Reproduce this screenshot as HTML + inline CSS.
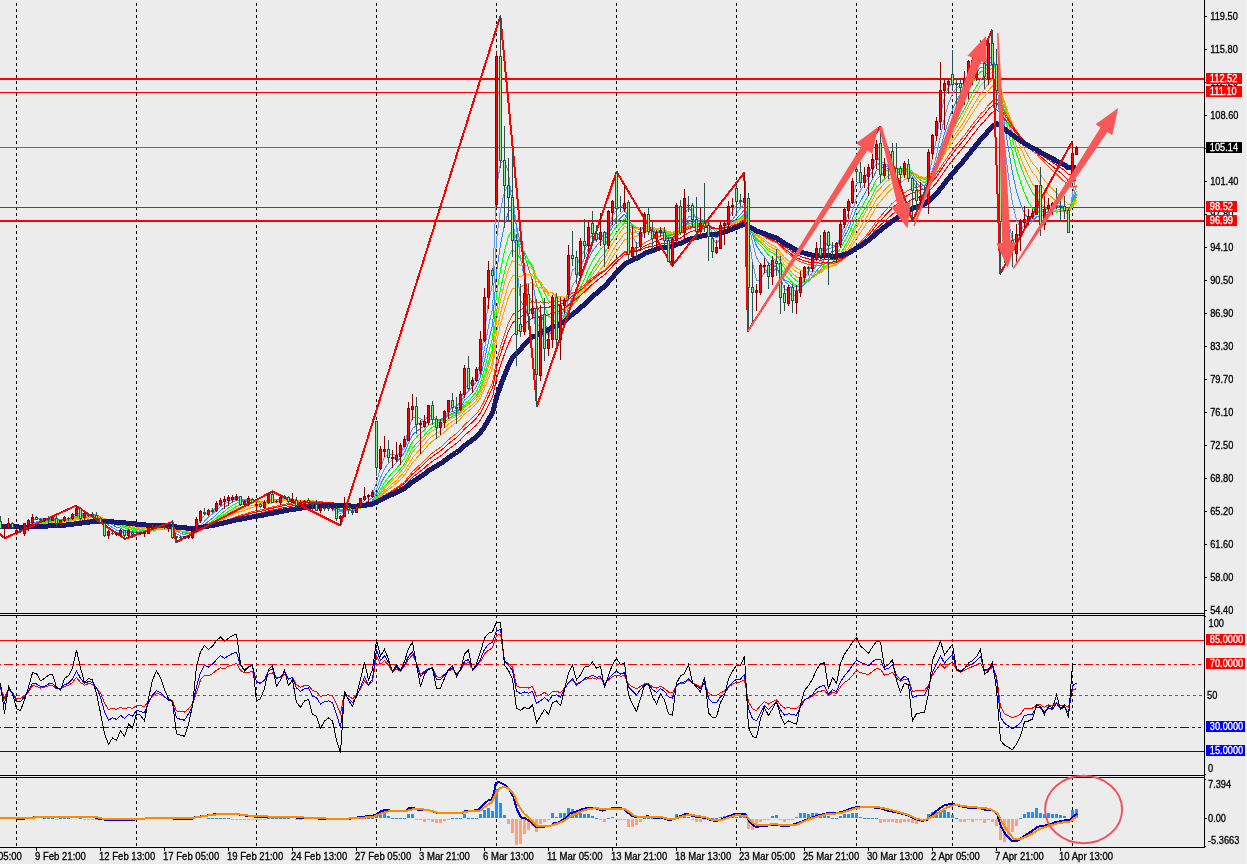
<!DOCTYPE html><html><head><meta charset="utf-8"><title>Chart</title><style>html,body{margin:0;padding:0;background:#ececec;overflow:hidden}</style></head><body><svg width="1247" height="864" viewBox="0 0 1247 864" style="display:block;font-family:'Liberation Sans',sans-serif;font-size:10px">
<rect width="1247" height="864" fill="#ececec"/>
<rect x="1246" width="1" height="864" fill="#f4f4f4"/>
<g shape-rendering="crispEdges">
<line x1="16.5" y1="3" x2="16.5" y2="847" stroke="#000" stroke-width="1" stroke-dasharray="3 3"/>
<line x1="136.5" y1="3" x2="136.5" y2="847" stroke="#000" stroke-width="1" stroke-dasharray="3 3"/>
<line x1="256.5" y1="3" x2="256.5" y2="847" stroke="#000" stroke-width="1" stroke-dasharray="3 3"/>
<line x1="376.5" y1="3" x2="376.5" y2="847" stroke="#000" stroke-width="1" stroke-dasharray="3 3"/>
<line x1="496.5" y1="3" x2="496.5" y2="847" stroke="#000" stroke-width="1" stroke-dasharray="3 3"/>
<line x1="616.5" y1="3" x2="616.5" y2="847" stroke="#000" stroke-width="1" stroke-dasharray="3 3"/>
<line x1="736.5" y1="3" x2="736.5" y2="847" stroke="#000" stroke-width="1" stroke-dasharray="3 3"/>
<line x1="856.5" y1="3" x2="856.5" y2="847" stroke="#000" stroke-width="1" stroke-dasharray="3 3"/>
<line x1="952.5" y1="3" x2="952.5" y2="847" stroke="#000" stroke-width="1" stroke-dasharray="3 3"/>
<line x1="1072.5" y1="3" x2="1072.5" y2="847" stroke="#000" stroke-width="1" stroke-dasharray="3 3"/>
<rect x="0" y="78" width="1204" height="2" fill="#ff0000"/>
<rect x="0" y="92" width="1204" height="1" fill="#ff0000"/>
<rect x="0" y="147" width="1204" height="1" fill="#4169e1"/>
<rect x="0" y="207" width="1204" height="1" fill="#ff0000"/>
<rect x="0" y="220" width="1204" height="2" fill="#ff0000"/>
</g>
<g shape-rendering="crispEdges" stroke-linejoin="round">
<polyline points="0.5,527.1 4.5,526.6 8.5,524.9 12.5,525.5 16.5,527.4 20.5,529.2 24.5,527.3 28.5,524.3 32.5,520.6 36.5,519.0 40.5,518.7 44.5,518.6 48.5,518.8 52.5,518.0 56.5,520.0 60.5,520.4 64.5,519.2 68.5,518.9 72.5,516.6 76.5,512.8 80.5,514.2 84.5,513.6 88.5,514.2 92.5,514.8 96.5,516.0 100.5,518.7 104.5,525.7 108.5,529.1 112.5,531.6 116.5,532.8 120.5,531.5 124.5,532.8 128.5,532.0 132.5,532.7 136.5,532.7 140.5,532.5 144.5,532.4 148.5,530.1 152.5,527.4 156.5,526.1 160.5,525.7 164.5,526.3 168.5,526.2 172.5,530.6 176.5,533.8 180.5,536.0 184.5,536.9 188.5,536.4 192.5,534.1 196.5,527.7 200.5,519.9 204.5,515.3 208.5,511.8 212.5,510.7 216.5,507.5 220.5,503.8 224.5,501.1 228.5,498.6 232.5,497.7 236.5,496.7 240.5,499.5 244.5,500.5 248.5,499.9 252.5,500.6 256.5,501.6 260.5,503.6 264.5,503.7 268.5,499.8 272.5,500.0 276.5,499.8 280.5,498.6 284.5,498.0 288.5,498.8 292.5,498.9 296.5,501.4 300.5,502.3 304.5,501.8 308.5,502.1 312.5,502.6 316.5,505.6 320.5,506.6 324.5,507.6 328.5,507.9 332.5,507.8 336.5,511.9 340.5,513.9 344.5,511.4 348.5,510.3 352.5,510.2 356.5,508.5 360.5,504.5 364.5,500.2 368.5,496.9 372.5,494.1 376.5,483.0 380.5,467.7 384.5,457.1 388.5,454.1 392.5,454.6 396.5,455.4 400.5,451.5 404.5,445.8 408.5,429.4 412.5,417.3 416.5,417.1 420.5,418.5 424.5,420.9 428.5,415.5 432.5,415.8 436.5,419.8 440.5,421.4 444.5,418.3 448.5,410.5 452.5,407.4 456.5,406.4 460.5,401.4 464.5,387.5 468.5,384.9 472.5,381.1 476.5,375.8 480.5,361.2 484.5,332.2 488.5,301.8 492.5,284.3 496.5,188.6 500.5,163.0 504.5,160.7 508.5,171.9 512.5,208.2 516.5,263.6 520.5,300.5 524.5,307.4 528.5,312.8 532.5,308.6 536.5,333.7 540.5,331.7 544.5,339.7 548.5,340.8 552.5,321.6 556.5,327.2 560.5,316.8 564.5,308.6 568.5,286.5 572.5,269.8 576.5,267.9 580.5,255.7 584.5,251.1 588.5,239.9 592.5,234.3 596.5,235.3 600.5,233.9 604.5,238.4 608.5,228.1 612.5,215.9 616.5,210.1 620.5,206.5 624.5,204.8 628.5,224.5 632.5,236.1 636.5,243.8 640.5,241.7 644.5,229.1 648.5,227.5 652.5,230.4 656.5,231.5 660.5,232.2 664.5,235.0 668.5,245.3 672.5,244.6 676.5,229.7 680.5,227.9 684.5,213.6 688.5,208.2 692.5,212.0 696.5,218.9 700.5,222.7 704.5,225.3 708.5,229.8 712.5,238.6 716.5,243.8 720.5,237.8 724.5,231.1 728.5,218.8 732.5,210.9 736.5,205.4 740.5,202.1 744.5,200.2 748.5,234.6 752.5,262.5 756.5,280.6 760.5,279.8 764.5,272.6 768.5,272.1 772.5,266.7 776.5,265.2 780.5,277.6 784.5,288.9 788.5,291.2 792.5,296.4 796.5,294.0 800.5,286.9 804.5,278.2 808.5,271.7 812.5,264.8 816.5,257.0 820.5,254.8 824.5,244.6 828.5,243.4 832.5,246.0 836.5,245.0 840.5,237.5 844.5,224.7 848.5,212.3 852.5,197.0 856.5,183.8 860.5,180.6 864.5,177.1 868.5,172.9 872.5,167.0 876.5,156.3 880.5,161.5 884.5,162.8 888.5,166.0 892.5,168.0 896.5,171.7 900.5,173.6 904.5,169.8 908.5,172.7 912.5,179.2 916.5,188.6 920.5,194.0 924.5,195.3 928.5,178.1 932.5,157.8 936.5,138.4 940.5,114.0 944.5,97.6 948.5,87.1 952.5,83.2 956.5,83.0 960.5,84.5 964.5,82.3 968.5,73.6 972.5,66.6 976.5,63.1 980.5,57.0 984.5,64.2 988.5,56.5 992.5,58.9 996.5,71.6 1000.5,132.5 1004.5,188.7 1008.5,221.8 1012.5,239.7 1016.5,238.8 1020.5,231.1 1024.5,225.1 1028.5,219.6 1032.5,215.7 1036.5,203.0 1040.5,209.2 1044.5,209.1 1048.5,208.0 1052.5,206.7 1056.5,205.2 1060.5,205.4 1064.5,207.4 1068.5,217.8 1072.5,193.7 1076.5,172.3" fill="none" stroke="#6495ed" stroke-width="1" />
<polyline points="0.5,526.9 4.5,526.6 8.5,525.6 12.5,525.8 16.5,526.9 20.5,528.0 24.5,527.0 28.5,525.4 32.5,523.2 36.5,521.8 40.5,520.5 44.5,519.5 48.5,518.9 52.5,518.3 56.5,519.5 60.5,519.9 64.5,519.2 68.5,519.1 72.5,517.8 76.5,515.2 80.5,515.4 84.5,514.4 88.5,514.3 92.5,514.3 96.5,515.2 100.5,517.1 104.5,522.0 108.5,524.9 112.5,527.8 116.5,530.0 120.5,530.8 124.5,532.3 128.5,532.1 132.5,532.5 136.5,532.5 140.5,532.5 144.5,532.4 148.5,531.1 152.5,529.1 156.5,528.0 160.5,527.1 164.5,526.8 168.5,526.3 172.5,528.8 176.5,531.2 180.5,533.3 184.5,534.7 188.5,535.5 192.5,534.8 196.5,531.0 200.5,525.4 204.5,521.2 208.5,517.0 212.5,514.1 216.5,510.2 220.5,506.6 224.5,504.0 228.5,501.6 232.5,499.8 236.5,498.2 240.5,499.1 244.5,499.6 248.5,499.3 252.5,500.0 256.5,501.0 260.5,502.5 264.5,502.8 268.5,500.6 272.5,500.8 276.5,500.7 280.5,499.6 284.5,498.6 288.5,498.9 292.5,498.9 296.5,500.4 300.5,501.0 304.5,501.1 308.5,501.7 312.5,502.4 316.5,504.3 320.5,505.2 324.5,506.1 328.5,506.9 332.5,507.4 336.5,510.3 340.5,511.9 344.5,510.8 348.5,510.6 352.5,510.9 356.5,509.8 360.5,506.8 364.5,503.3 368.5,500.5 372.5,497.7 376.5,489.2 380.5,477.7 384.5,468.5 388.5,463.2 392.5,459.4 396.5,456.5 400.5,452.5 404.5,448.7 408.5,438.2 412.5,428.7 416.5,425.2 420.5,422.5 424.5,420.7 428.5,416.1 432.5,416.3 436.5,419.3 440.5,420.3 444.5,417.9 448.5,413.4 452.5,411.4 456.5,410.1 460.5,405.2 464.5,394.6 468.5,391.2 472.5,387.0 476.5,381.3 480.5,369.3 484.5,349.0 488.5,326.0 492.5,308.7 496.5,239.9 500.5,209.0 504.5,192.1 508.5,184.8 512.5,193.4 516.5,227.5 520.5,258.6 524.5,278.1 528.5,294.2 532.5,303.4 536.5,324.9 540.5,325.7 544.5,331.7 548.5,334.9 552.5,327.2 556.5,330.1 560.5,323.3 564.5,315.4 568.5,299.0 572.5,285.5 576.5,279.4 580.5,267.3 584.5,258.2 588.5,247.9 592.5,241.9 596.5,239.7 600.5,236.5 604.5,237.1 608.5,230.6 612.5,222.6 616.5,217.8 620.5,213.5 624.5,209.1 628.5,218.8 632.5,225.9 636.5,232.9 640.5,235.1 644.5,231.4 648.5,231.9 652.5,233.3 656.5,231.9 660.5,230.8 664.5,232.8 668.5,240.2 672.5,241.2 676.5,232.8 680.5,232.0 684.5,223.1 688.5,217.0 692.5,215.5 696.5,217.5 700.5,218.6 704.5,221.1 708.5,225.3 712.5,233.1 716.5,238.0 720.5,235.9 724.5,233.2 728.5,226.4 732.5,220.1 736.5,213.4 740.5,207.9 744.5,203.7 748.5,223.4 752.5,242.0 756.5,257.6 760.5,264.1 764.5,268.5 768.5,273.4 772.5,271.7 776.5,268.3 780.5,274.4 784.5,281.6 788.5,284.3 792.5,289.7 796.5,291.5 800.5,289.3 804.5,284.0 808.5,278.7 812.5,272.1 816.5,264.6 820.5,260.1 824.5,251.5 828.5,248.3 832.5,247.9 836.5,245.9 840.5,240.1 844.5,231.7 848.5,222.7 852.5,210.6 856.5,197.8 860.5,190.5 864.5,183.9 868.5,177.6 872.5,171.4 876.5,163.3 880.5,164.7 884.5,163.9 888.5,164.3 892.5,165.1 896.5,168.7 900.5,171.0 904.5,169.8 908.5,171.8 912.5,176.5 916.5,182.9 920.5,187.2 924.5,190.1 928.5,181.8 932.5,170.0 936.5,155.8 940.5,135.8 944.5,117.7 948.5,103.3 952.5,93.7 956.5,88.1 960.5,85.6 964.5,82.7 968.5,77.1 972.5,72.2 976.5,68.8 980.5,62.9 984.5,64.8 988.5,58.7 992.5,59.3 996.5,66.9 1000.5,106.1 1004.5,145.7 1008.5,176.9 1012.5,202.8 1016.5,220.5 1020.5,228.0 1024.5,229.6 1028.5,225.6 1032.5,221.1 1036.5,210.8 1040.5,212.0 1044.5,210.3 1048.5,208.5 1052.5,206.6 1056.5,206.3 1060.5,206.2 1064.5,207.4 1068.5,213.2 1072.5,199.0 1076.5,185.2" fill="none" stroke="#6495ed" stroke-width="1" />
<polyline points="0.5,526.8 4.5,526.6 8.5,525.9 12.5,526.0 16.5,526.8 20.5,527.6 24.5,526.9 28.5,525.7 32.5,524.1 36.5,523.0 40.5,522.0 44.5,521.1 48.5,520.4 52.5,519.3 56.5,519.7 60.5,519.7 64.5,519.2 68.5,519.1 72.5,518.2 76.5,516.3 80.5,516.3 84.5,515.5 88.5,515.2 92.5,514.9 96.5,515.2 100.5,516.4 104.5,519.9 108.5,522.3 112.5,524.8 116.5,527.1 120.5,528.2 124.5,530.2 128.5,530.9 132.5,531.9 136.5,532.3 140.5,532.5 144.5,532.4 148.5,531.4 152.5,530.0 156.5,529.1 160.5,528.4 164.5,527.9 168.5,527.2 172.5,528.8 176.5,530.3 180.5,531.7 184.5,532.8 188.5,533.8 192.5,533.8 196.5,531.4 200.5,527.7 204.5,524.6 208.5,521.2 212.5,518.3 216.5,514.4 220.5,510.6 224.5,507.4 228.5,504.4 232.5,502.2 236.5,500.4 240.5,500.5 244.5,500.2 248.5,499.5 252.5,499.7 256.5,500.4 260.5,501.5 264.5,501.9 268.5,500.7 272.5,500.9 276.5,500.9 280.5,500.1 284.5,499.4 288.5,499.5 292.5,499.3 296.5,500.1 300.5,500.5 304.5,500.6 308.5,501.1 312.5,501.7 316.5,503.3 320.5,504.2 324.5,505.2 328.5,505.9 332.5,506.5 336.5,508.8 340.5,510.4 344.5,510.0 348.5,510.1 352.5,510.6 356.5,509.9 360.5,507.9 364.5,505.4 368.5,503.1 372.5,500.5 376.5,493.7 380.5,484.5 384.5,476.5 388.5,471.0 392.5,466.4 396.5,462.5 400.5,457.6 404.5,452.7 408.5,443.2 412.5,434.9 416.5,431.4 420.5,428.5 424.5,425.8 428.5,420.6 432.5,418.9 436.5,419.4 440.5,419.4 444.5,417.8 448.5,414.9 452.5,413.3 456.5,411.8 460.5,408.1 464.5,400.1 468.5,396.8 472.5,392.3 476.5,386.6 480.5,376.6 484.5,360.3 488.5,341.3 492.5,325.5 496.5,272.2 500.5,244.3 504.5,225.1 508.5,211.4 512.5,209.0 516.5,226.3 520.5,243.7 524.5,254.2 528.5,268.5 532.5,281.0 536.5,305.1 540.5,312.9 544.5,323.6 548.5,329.8 552.5,325.5 556.5,328.1 560.5,324.2 564.5,320.0 568.5,307.4 572.5,296.5 576.5,289.5 580.5,278.2 584.5,269.2 588.5,258.6 592.5,251.1 596.5,245.9 600.5,241.4 604.5,240.2 608.5,234.1 612.5,226.9 616.5,222.0 620.5,218.1 624.5,214.1 628.5,220.1 632.5,224.4 636.5,228.4 640.5,229.7 644.5,227.5 648.5,229.1 652.5,231.6 656.5,232.3 660.5,232.3 664.5,233.6 668.5,238.0 672.5,238.3 676.5,232.6 680.5,232.6 684.5,226.4 688.5,221.8 692.5,220.2 696.5,221.1 700.5,220.6 704.5,220.7 708.5,222.9 712.5,228.3 716.5,232.7 720.5,232.4 724.5,231.8 728.5,227.7 732.5,223.4 736.5,218.7 740.5,214.4 744.5,210.1 748.5,222.5 752.5,234.7 756.5,245.8 760.5,251.7 764.5,256.9 768.5,263.3 772.5,265.6 776.5,267.4 780.5,274.2 784.5,280.3 788.5,281.5 792.5,285.2 796.5,287.1 800.5,286.5 804.5,283.8 808.5,281.2 812.5,277.0 816.5,271.0 820.5,266.5 824.5,258.6 828.5,254.4 832.5,252.1 836.5,249.2 840.5,243.7 844.5,236.5 848.5,228.8 852.5,218.6 856.5,208.1 860.5,201.1 864.5,194.0 868.5,186.4 872.5,178.9 876.5,170.3 880.5,168.9 884.5,166.7 888.5,166.0 892.5,165.9 896.5,167.8 900.5,168.9 904.5,168.0 908.5,170.2 912.5,174.2 916.5,179.6 920.5,183.2 924.5,186.1 928.5,180.8 932.5,172.7 936.5,162.7 940.5,148.0 944.5,133.7 948.5,120.5 952.5,109.5 956.5,100.5 960.5,94.1 964.5,88.2 968.5,81.3 972.5,75.8 976.5,72.2 980.5,67.3 984.5,67.9 988.5,62.6 992.5,61.8 996.5,66.1 1000.5,94.0 1004.5,123.9 1008.5,149.4 1012.5,172.7 1016.5,191.1 1020.5,203.9 1024.5,213.3 1028.5,219.4 1032.5,221.9 1036.5,216.7 1040.5,216.8 1044.5,214.1 1048.5,211.3 1052.5,208.7 1056.5,207.5 1060.5,206.9 1064.5,207.1 1068.5,211.6 1072.5,201.4 1076.5,191.2" fill="none" stroke="#1e90ff" stroke-width="1" />
<polyline points="0.5,526.7 4.5,526.6 8.5,526.0 12.5,526.1 16.5,526.7 20.5,527.4 24.5,526.8 28.5,526.0 32.5,524.6 36.5,523.7 40.5,522.9 44.5,522.1 48.5,521.4 52.5,520.5 56.5,520.7 60.5,520.4 64.5,519.7 68.5,519.3 72.5,518.4 76.5,516.9 80.5,516.9 84.5,516.2 88.5,515.8 92.5,515.6 96.5,515.7 100.5,516.5 104.5,519.1 108.5,520.9 112.5,522.9 116.5,524.8 120.5,526.0 124.5,527.9 128.5,528.9 132.5,530.2 136.5,531.0 140.5,531.7 144.5,532.1 148.5,531.6 152.5,530.5 156.5,529.8 160.5,529.1 164.5,528.7 168.5,528.1 172.5,529.2 176.5,530.2 180.5,531.2 184.5,532.0 188.5,532.7 192.5,532.7 196.5,531.0 200.5,528.3 204.5,526.0 208.5,523.4 212.5,521.1 216.5,517.9 220.5,514.4 224.5,511.2 228.5,508.1 232.5,505.5 236.5,503.1 240.5,502.4 244.5,501.5 248.5,500.6 252.5,500.4 256.5,500.6 260.5,501.2 264.5,501.4 268.5,500.4 272.5,500.7 276.5,500.7 280.5,500.2 284.5,499.7 288.5,499.9 292.5,499.6 296.5,500.3 300.5,500.5 304.5,500.5 308.5,500.8 312.5,501.2 316.5,502.5 320.5,503.3 324.5,504.2 328.5,505.0 332.5,505.6 336.5,507.6 340.5,509.1 344.5,509.0 348.5,509.3 352.5,509.9 356.5,509.6 360.5,508.2 364.5,506.3 368.5,504.5 372.5,502.4 376.5,496.9 380.5,489.3 384.5,482.4 388.5,477.2 392.5,472.6 396.5,468.5 400.5,463.5 404.5,458.3 408.5,449.5 412.5,441.6 416.5,437.2 420.5,433.3 424.5,430.1 428.5,425.3 432.5,423.2 436.5,422.6 440.5,421.5 444.5,419.2 448.5,415.9 452.5,414.1 456.5,412.9 460.5,410.0 464.5,403.5 468.5,400.4 472.5,396.5 476.5,391.6 480.5,383.0 484.5,369.1 488.5,352.6 492.5,338.6 496.5,294.8 500.5,269.9 504.5,251.0 508.5,236.2 512.5,230.0 516.5,238.9 520.5,247.8 524.5,251.8 528.5,259.7 532.5,267.4 536.5,285.0 540.5,293.6 544.5,306.1 548.5,316.6 552.5,317.9 556.5,323.8 560.5,323.0 564.5,320.4 568.5,310.7 572.5,302.3 576.5,297.2 580.5,287.4 584.5,279.1 588.5,268.7 592.5,260.9 596.5,254.9 600.5,249.1 604.5,246.1 608.5,239.0 612.5,231.8 616.5,226.7 620.5,222.5 624.5,218.2 628.5,221.9 632.5,224.7 636.5,227.6 640.5,228.3 644.5,226.3 648.5,227.1 652.5,228.9 656.5,229.7 660.5,230.5 664.5,232.4 668.5,236.9 672.5,237.7 676.5,233.3 680.5,232.7 684.5,227.5 688.5,223.9 692.5,222.7 696.5,223.4 700.5,222.7 704.5,222.5 708.5,223.9 712.5,227.4 716.5,230.1 720.5,229.6 724.5,229.2 728.5,226.5 732.5,223.8 736.5,220.7 740.5,217.5 744.5,214.0 748.5,223.5 752.5,233.0 756.5,241.5 760.5,245.7 764.5,249.7 768.5,255.1 772.5,257.9 776.5,260.6 780.5,267.9 784.5,274.8 788.5,278.4 792.5,283.1 796.5,285.3 800.5,284.5 804.5,282.4 808.5,280.6 812.5,277.8 816.5,273.5 820.5,270.4 824.5,264.3 828.5,260.4 832.5,257.5 836.5,254.0 840.5,248.5 844.5,241.4 848.5,234.3 852.5,225.2 856.5,215.8 860.5,209.0 864.5,202.2 868.5,195.0 872.5,187.7 876.5,179.2 880.5,175.9 884.5,172.1 888.5,169.7 892.5,168.2 896.5,168.6 900.5,169.0 904.5,167.9 908.5,169.2 912.5,172.1 916.5,176.4 920.5,179.9 924.5,182.8 928.5,179.3 932.5,173.2 936.5,165.6 940.5,154.1 944.5,142.5 948.5,131.5 952.5,122.0 956.5,113.5 960.5,106.2 964.5,98.8 968.5,90.2 972.5,82.9 976.5,77.5 980.5,71.7 984.5,70.9 988.5,65.9 992.5,64.7 996.5,67.5 1000.5,88.9 1004.5,112.3 1008.5,132.8 1012.5,152.4 1016.5,169.1 1020.5,182.0 1024.5,193.1 1028.5,201.8 1032.5,208.5 1036.5,209.5 1040.5,214.7 1044.5,215.9 1048.5,214.8 1052.5,212.2 1056.5,210.3 1060.5,208.9 1064.5,208.3 1068.5,211.2 1072.5,202.9 1076.5,194.5" fill="none" stroke="#00ff00" stroke-width="1" />
<polyline points="0.5,526.7 4.5,526.6 8.5,526.1 12.5,526.2 16.5,526.7 20.5,527.3 24.5,526.8 28.5,526.1 32.5,525.0 36.5,524.3 40.5,523.5 44.5,522.8 48.5,522.2 52.5,521.4 56.5,521.4 60.5,521.1 64.5,520.5 68.5,520.1 72.5,519.2 76.5,517.7 80.5,517.4 84.5,516.7 88.5,516.3 92.5,516.0 96.5,516.1 100.5,516.7 104.5,518.8 108.5,520.3 112.5,521.9 116.5,523.4 120.5,524.5 124.5,526.1 128.5,527.1 132.5,528.4 136.5,529.4 140.5,530.2 144.5,530.9 148.5,530.9 152.5,530.4 156.5,530.0 160.5,529.6 164.5,529.3 168.5,528.7 172.5,529.6 176.5,530.4 180.5,531.1 184.5,531.8 188.5,532.3 192.5,532.3 196.5,530.8 200.5,528.5 204.5,526.6 208.5,524.4 212.5,522.5 216.5,519.9 220.5,517.0 224.5,514.3 228.5,511.4 232.5,508.9 236.5,506.4 240.5,505.2 244.5,503.9 248.5,502.4 252.5,501.7 256.5,501.4 260.5,501.7 264.5,501.6 268.5,500.6 272.5,500.6 276.5,500.6 280.5,500.1 284.5,499.8 288.5,499.9 292.5,499.8 296.5,500.3 300.5,500.6 304.5,500.5 308.5,500.8 312.5,501.1 316.5,502.1 320.5,502.7 324.5,503.5 328.5,504.1 332.5,504.8 336.5,506.6 340.5,507.9 344.5,508.0 348.5,508.4 352.5,509.1 356.5,509.0 360.5,508.0 364.5,506.6 368.5,505.2 372.5,503.5 376.5,499.0 380.5,492.6 384.5,486.6 388.5,482.0 392.5,477.8 396.5,473.7 400.5,468.9 404.5,463.8 408.5,455.7 412.5,448.2 416.5,443.4 420.5,439.2 424.5,435.3 428.5,430.2 432.5,427.3 436.5,426.0 440.5,424.5 444.5,422.0 448.5,418.6 452.5,416.4 456.5,414.6 460.5,411.5 464.5,405.8 468.5,403.0 472.5,399.8 476.5,395.4 480.5,387.9 484.5,375.9 488.5,361.8 492.5,349.2 496.5,311.9 500.5,289.3 504.5,271.6 508.5,257.0 512.5,249.2 516.5,253.5 520.5,258.0 524.5,258.7 528.5,262.5 532.5,266.0 536.5,278.0 540.5,283.3 544.5,292.7 548.5,301.1 552.5,304.1 556.5,311.9 560.5,315.2 564.5,316.1 568.5,310.7 572.5,305.2 576.5,301.1 580.5,292.9 584.5,285.9 588.5,277.3 592.5,269.9 596.5,263.8 600.5,257.4 604.5,253.4 608.5,246.1 612.5,238.5 616.5,232.7 620.5,227.5 624.5,222.8 628.5,224.8 632.5,226.4 636.5,228.0 640.5,228.1 644.5,226.2 648.5,226.7 652.5,228.0 656.5,228.5 660.5,228.9 664.5,230.4 668.5,234.3 672.5,235.6 676.5,232.6 680.5,232.8 684.5,228.9 688.5,225.8 692.5,224.3 696.5,224.5 700.5,223.9 704.5,223.8 708.5,224.9 712.5,227.6 716.5,229.7 720.5,229.2 724.5,228.5 728.5,225.8 732.5,223.3 736.5,220.7 740.5,218.4 744.5,215.8 748.5,223.9 752.5,231.9 756.5,239.0 760.5,242.7 764.5,246.2 768.5,250.6 772.5,252.9 776.5,255.2 780.5,261.5 784.5,268.1 788.5,272.2 792.5,277.4 796.5,280.8 800.5,282.0 804.5,281.5 808.5,280.5 812.5,277.9 816.5,274.4 820.5,271.9 824.5,267.0 828.5,263.9 832.5,261.7 836.5,258.7 840.5,253.6 844.5,247.0 848.5,240.1 852.5,231.6 856.5,222.7 860.5,216.1 864.5,209.4 868.5,202.4 872.5,195.3 876.5,187.2 880.5,183.4 884.5,179.0 888.5,175.8 892.5,172.9 896.5,171.8 900.5,170.9 904.5,169.1 908.5,169.5 912.5,171.5 916.5,174.8 920.5,177.6 924.5,179.9 928.5,177.2 932.5,172.7 936.5,166.7 940.5,157.4 944.5,147.8 948.5,138.6 952.5,130.3 956.5,122.6 960.5,115.9 964.5,108.9 968.5,100.6 972.5,92.9 976.5,86.3 980.5,79.3 984.5,76.4 988.5,70.5 992.5,68.1 996.5,69.4 1000.5,86.5 1004.5,105.6 1008.5,122.8 1012.5,139.4 1016.5,153.9 1020.5,165.6 1024.5,176.2 1028.5,185.3 1032.5,193.1 1036.5,196.6 1040.5,203.7 1044.5,207.8 1048.5,210.3 1052.5,211.6 1056.5,212.1 1060.5,211.6 1064.5,210.7 1068.5,212.4 1072.5,205.0 1076.5,197.4" fill="none" stroke="#00ff00" stroke-width="1" />
<polyline points="0.5,526.7 4.5,526.6 8.5,526.2 12.5,526.3 16.5,526.7 20.5,527.2 24.5,526.8 28.5,526.2 32.5,525.2 36.5,524.5 40.5,523.9 44.5,523.2 48.5,522.6 52.5,521.9 56.5,521.9 60.5,521.6 64.5,520.9 68.5,520.5 72.5,519.6 76.5,518.2 80.5,518.0 84.5,517.2 88.5,516.7 92.5,516.3 96.5,516.3 100.5,516.8 104.5,518.7 108.5,520.0 112.5,521.4 116.5,522.8 120.5,523.8 124.5,525.3 128.5,526.1 132.5,527.4 136.5,528.3 140.5,529.2 144.5,530.0 148.5,530.1 152.5,529.9 156.5,529.7 160.5,529.6 164.5,529.4 168.5,529.0 172.5,529.8 176.5,530.5 180.5,531.2 184.5,531.7 188.5,532.2 192.5,532.1 196.5,530.8 200.5,528.7 204.5,526.9 208.5,525.0 212.5,523.2 216.5,520.8 220.5,518.2 224.5,515.7 228.5,513.1 232.5,510.8 236.5,508.4 240.5,507.1 244.5,505.7 248.5,504.1 252.5,503.1 256.5,502.5 260.5,502.3 264.5,502.0 268.5,500.9 272.5,500.8 276.5,500.7 280.5,500.2 284.5,499.8 288.5,499.9 292.5,499.8 296.5,500.3 300.5,500.5 304.5,500.6 308.5,500.8 312.5,501.1 316.5,502.0 320.5,502.5 324.5,503.2 328.5,503.8 332.5,504.3 336.5,505.9 340.5,507.2 344.5,507.4 348.5,507.9 352.5,508.6 356.5,508.6 360.5,507.8 364.5,506.6 368.5,505.4 372.5,503.9 376.5,499.9 380.5,494.2 384.5,488.7 388.5,484.5 392.5,480.5 396.5,476.7 400.5,472.1 404.5,467.2 408.5,459.5 412.5,452.3 416.5,447.5 420.5,443.1 424.5,439.1 428.5,433.8 432.5,430.6 436.5,428.8 440.5,426.8 444.5,424.0 448.5,420.6 452.5,418.3 456.5,416.3 460.5,413.2 464.5,407.6 468.5,404.7 472.5,401.4 476.5,397.4 480.5,390.6 484.5,379.7 488.5,366.7 492.5,355.0 496.5,321.1 500.5,300.2 504.5,283.2 508.5,268.9 512.5,260.5 516.5,263.0 520.5,265.7 524.5,264.8 528.5,266.7 532.5,268.7 536.5,278.1 540.5,281.6 544.5,288.8 548.5,295.2 552.5,297.4 556.5,304.3 560.5,307.3 564.5,309.6 568.5,307.1 572.5,303.7 576.5,301.5 580.5,295.3 584.5,289.2 588.5,281.2 592.5,274.4 596.5,268.8 600.5,262.8 604.5,258.5 608.5,251.1 612.5,243.5 616.5,237.3 620.5,231.8 624.5,226.7 628.5,227.5 632.5,228.1 636.5,229.0 640.5,228.8 644.5,226.7 648.5,226.8 652.5,227.8 656.5,228.2 660.5,228.5 664.5,229.7 668.5,233.2 672.5,234.2 676.5,231.6 680.5,232.0 684.5,228.8 688.5,226.3 692.5,225.4 696.5,225.5 700.5,224.7 704.5,224.4 708.5,225.2 712.5,227.7 716.5,229.7 720.5,229.2 724.5,228.5 728.5,226.0 732.5,223.7 736.5,221.1 740.5,218.6 744.5,216.3 748.5,223.6 752.5,230.8 756.5,237.5 760.5,241.1 764.5,244.3 768.5,248.5 772.5,250.7 776.5,253.0 780.5,258.6 784.5,264.4 788.5,268.3 792.5,273.4 796.5,277.0 800.5,278.8 804.5,279.2 808.5,279.2 812.5,277.8 816.5,275.1 820.5,272.7 824.5,268.1 828.5,265.3 832.5,263.4 836.5,260.7 840.5,256.1 844.5,250.3 848.5,243.9 852.5,235.7 856.5,227.2 860.5,220.7 864.5,213.9 868.5,207.1 872.5,200.0 876.5,192.1 880.5,188.0 884.5,183.5 888.5,179.9 892.5,176.7 896.5,175.1 900.5,173.4 904.5,171.0 908.5,170.7 912.5,171.9 916.5,174.5 920.5,176.7 924.5,178.7 928.5,176.3 932.5,172.1 936.5,166.8 940.5,158.6 944.5,150.1 948.5,141.9 952.5,134.3 956.5,127.3 960.5,121.0 964.5,114.3 968.5,106.3 972.5,98.9 976.5,92.5 980.5,85.3 984.5,81.7 988.5,75.1 992.5,71.7 996.5,71.8 1000.5,86.2 1004.5,102.8 1008.5,118.0 1012.5,133.1 1016.5,146.4 1020.5,157.3 1024.5,167.3 1028.5,176.1 1032.5,183.9 1036.5,188.0 1040.5,195.6 1044.5,200.6 1048.5,204.3 1052.5,207.0 1056.5,209.1 1060.5,210.5 1064.5,211.3 1068.5,213.6 1072.5,206.8 1076.5,199.7" fill="none" stroke="#ffa500" stroke-width="1" />
<polyline points="0.5,526.7 4.5,526.6 8.5,526.2 12.5,526.3 16.5,526.7 20.5,527.1 24.5,526.8 28.5,526.3 32.5,525.5 36.5,524.9 40.5,524.3 44.5,523.7 48.5,523.2 52.5,522.5 56.5,522.5 60.5,522.2 64.5,521.6 68.5,521.1 72.5,520.3 76.5,519.0 80.5,518.7 84.5,518.0 88.5,517.5 92.5,517.0 96.5,516.8 100.5,517.1 104.5,518.6 108.5,519.7 112.5,520.9 116.5,522.2 120.5,523.0 124.5,524.3 128.5,525.1 132.5,526.2 136.5,527.1 140.5,527.9 144.5,528.7 148.5,529.0 152.5,528.9 156.5,529.0 160.5,529.0 164.5,529.1 168.5,529.0 172.5,529.8 176.5,530.6 180.5,531.2 184.5,531.7 188.5,532.1 192.5,532.0 196.5,530.9 200.5,529.0 204.5,527.5 208.5,525.7 212.5,524.1 216.5,521.9 220.5,519.6 224.5,517.3 228.5,515.0 232.5,512.9 236.5,510.8 240.5,509.6 244.5,508.1 248.5,506.5 252.5,505.4 256.5,504.5 260.5,504.0 264.5,503.3 268.5,502.0 272.5,501.6 276.5,501.2 280.5,500.6 284.5,500.1 288.5,500.0 292.5,499.8 296.5,500.2 300.5,500.4 304.5,500.5 308.5,500.7 312.5,501.0 316.5,501.8 320.5,502.3 324.5,502.8 328.5,503.4 332.5,503.9 336.5,505.3 340.5,506.4 344.5,506.6 348.5,507.0 352.5,507.8 356.5,507.9 360.5,507.3 364.5,506.4 368.5,505.4 372.5,504.2 376.5,500.8 380.5,495.8 384.5,491.1 388.5,487.4 392.5,483.8 396.5,480.3 400.5,476.1 404.5,471.6 408.5,464.6 412.5,457.9 416.5,453.2 420.5,448.8 424.5,444.6 428.5,439.4 432.5,435.9 436.5,433.4 440.5,431.0 444.5,427.8 448.5,424.1 452.5,421.4 456.5,419.1 460.5,416.0 464.5,410.8 468.5,407.8 472.5,404.4 476.5,400.4 480.5,394.0 484.5,384.3 488.5,372.7 492.5,362.3 496.5,332.4 500.5,313.5 504.5,297.8 508.5,284.3 512.5,275.6 516.5,276.2 520.5,276.9 524.5,274.6 528.5,274.8 532.5,274.9 536.5,281.5 540.5,283.1 544.5,288.0 548.5,292.3 552.5,292.8 556.5,297.7 560.5,299.6 564.5,301.3 568.5,299.1 572.5,297.4 576.5,297.2 580.5,294.1 584.5,290.5 588.5,284.8 592.5,279.6 596.5,274.6 600.5,269.1 604.5,265.0 608.5,258.3 612.5,250.9 616.5,244.6 620.5,238.7 624.5,233.2 628.5,232.8 632.5,232.2 636.5,232.0 640.5,230.8 644.5,228.3 648.5,227.8 652.5,228.3 656.5,228.3 660.5,228.2 664.5,229.2 668.5,232.1 672.5,232.9 676.5,230.6 680.5,230.9 684.5,228.1 688.5,226.1 692.5,225.5 696.5,226.0 700.5,225.6 704.5,225.4 708.5,226.1 712.5,228.0 716.5,229.5 720.5,229.0 724.5,228.5 728.5,226.4 732.5,224.3 736.5,222.0 740.5,219.8 744.5,217.4 748.5,223.4 752.5,229.5 756.5,235.3 760.5,238.6 764.5,241.8 768.5,245.8 772.5,248.0 776.5,250.1 780.5,255.3 784.5,260.6 788.5,264.1 792.5,268.6 796.5,271.9 800.5,273.9 804.5,274.8 808.5,275.6 812.5,275.3 816.5,273.8 820.5,272.8 824.5,269.5 828.5,267.2 832.5,265.3 836.5,262.8 840.5,258.9 844.5,253.8 848.5,248.2 852.5,241.1 856.5,233.5 860.5,227.3 864.5,220.7 868.5,213.9 872.5,207.0 876.5,199.2 880.5,194.8 884.5,190.0 888.5,186.0 892.5,182.4 896.5,180.2 900.5,178.0 904.5,175.1 908.5,174.0 912.5,174.1 916.5,175.4 920.5,176.6 924.5,177.9 928.5,175.5 932.5,171.8 936.5,167.1 940.5,159.9 944.5,152.4 948.5,145.2 952.5,138.7 956.5,132.5 960.5,126.9 964.5,120.8 968.5,113.6 972.5,106.6 976.5,100.4 980.5,93.6 984.5,89.6 988.5,83.1 992.5,78.9 996.5,77.6 1000.5,88.6 1004.5,101.7 1008.5,113.9 1012.5,126.5 1016.5,137.8 1020.5,147.6 1024.5,156.7 1028.5,165.0 1032.5,172.5 1036.5,176.8 1040.5,184.3 1044.5,189.8 1048.5,194.3 1052.5,198.1 1056.5,201.6 1060.5,204.5 1064.5,207.1 1068.5,211.0 1072.5,207.1 1076.5,202.1" fill="none" stroke="#ffa500" stroke-width="1" />
<polyline points="0.5,526.7 4.5,526.6 8.5,526.3 12.5,526.4 16.5,526.7 20.5,527.1 24.5,526.8 28.5,526.4 32.5,525.7 36.5,525.1 40.5,524.6 44.5,524.1 48.5,523.7 52.5,523.0 56.5,523.0 60.5,522.7 64.5,522.1 68.5,521.7 72.5,521.0 76.5,519.8 80.5,519.4 84.5,518.7 88.5,518.1 92.5,517.7 96.5,517.5 100.5,517.6 104.5,518.8 108.5,519.7 112.5,520.7 116.5,521.7 120.5,522.4 124.5,523.6 128.5,524.4 132.5,525.4 136.5,526.2 140.5,527.0 144.5,527.7 148.5,528.0 152.5,528.0 156.5,528.1 160.5,528.3 164.5,528.5 168.5,528.5 172.5,529.4 176.5,530.2 180.5,531.0 184.5,531.5 188.5,532.0 192.5,532.0 196.5,531.0 200.5,529.3 204.5,527.9 208.5,526.3 212.5,524.9 216.5,522.9 220.5,520.7 224.5,518.7 228.5,516.6 232.5,514.6 236.5,512.6 240.5,511.4 244.5,510.1 248.5,508.6 252.5,507.4 256.5,506.5 260.5,505.9 264.5,505.0 268.5,503.6 272.5,502.9 276.5,502.3 280.5,501.4 284.5,500.7 288.5,500.5 292.5,500.2 296.5,500.4 300.5,500.5 304.5,500.4 308.5,500.6 312.5,500.8 316.5,501.5 320.5,502.0 324.5,502.6 328.5,503.0 332.5,503.5 336.5,504.7 340.5,505.7 344.5,506.0 348.5,506.4 352.5,507.1 356.5,507.2 360.5,506.8 364.5,506.1 368.5,505.3 372.5,504.2 376.5,501.3 380.5,497.0 384.5,492.8 388.5,489.5 392.5,486.3 396.5,483.1 400.5,479.3 404.5,475.2 408.5,468.8 412.5,462.7 416.5,458.2 420.5,453.9 424.5,449.8 428.5,444.7 432.5,441.1 436.5,438.4 440.5,435.6 444.5,432.1 448.5,428.2 452.5,425.2 456.5,422.6 460.5,419.2 464.5,414.0 468.5,410.9 472.5,407.6 476.5,403.7 480.5,397.8 484.5,388.7 488.5,378.0 492.5,368.3 496.5,341.5 500.5,324.3 504.5,309.8 508.5,297.0 512.5,288.4 516.5,287.9 520.5,287.5 524.5,284.4 528.5,283.4 532.5,282.3 536.5,286.9 540.5,287.3 544.5,290.4 548.5,293.1 552.5,292.6 556.5,296.0 560.5,296.7 564.5,297.3 568.5,294.6 572.5,292.5 576.5,292.2 580.5,289.4 584.5,287.2 588.5,283.5 592.5,280.5 596.5,277.3 600.5,273.3 604.5,270.0 608.5,263.9 612.5,257.0 616.5,251.1 620.5,245.5 624.5,239.9 628.5,238.8 632.5,237.3 636.5,236.3 640.5,234.4 644.5,231.4 648.5,230.2 652.5,229.8 656.5,229.3 660.5,228.9 664.5,229.4 668.5,231.7 672.5,232.2 676.5,230.1 680.5,230.3 684.5,227.8 688.5,226.0 692.5,225.4 696.5,225.7 700.5,225.5 704.5,225.5 708.5,226.3 712.5,228.2 716.5,229.7 720.5,229.2 724.5,228.6 728.5,226.6 732.5,224.8 736.5,222.7 740.5,220.8 744.5,218.6 748.5,223.7 752.5,229.1 756.5,234.0 760.5,236.8 764.5,239.5 768.5,243.1 772.5,245.3 776.5,247.5 780.5,252.4 784.5,257.3 788.5,260.7 792.5,264.9 796.5,268.1 800.5,270.1 804.5,271.0 808.5,271.9 812.5,272.0 816.5,271.2 820.5,270.8 824.5,268.5 828.5,267.3 832.5,266.3 836.5,264.6 840.5,261.2 844.5,256.5 848.5,251.4 852.5,245.1 856.5,238.2 860.5,232.6 864.5,226.7 868.5,220.4 872.5,213.7 876.5,206.2 880.5,201.5 884.5,196.4 888.5,192.1 892.5,188.2 896.5,185.5 900.5,182.8 904.5,179.6 908.5,177.9 912.5,177.4 916.5,178.0 920.5,178.4 924.5,178.8 928.5,176.0 932.5,172.2 936.5,167.7 940.5,161.1 944.5,154.4 948.5,147.9 952.5,142.0 956.5,136.3 960.5,131.2 964.5,125.7 968.5,119.2 972.5,112.9 976.5,107.0 980.5,100.6 984.5,96.6 988.5,90.3 992.5,86.0 996.5,84.1 1000.5,93.0 1004.5,103.6 1008.5,113.5 1012.5,123.6 1016.5,132.9 1020.5,141.0 1024.5,148.9 1028.5,156.3 1032.5,163.2 1036.5,167.6 1040.5,174.8 1044.5,180.3 1048.5,185.0 1052.5,189.1 1056.5,193.1 1060.5,196.8 1064.5,200.2 1068.5,205.0 1072.5,202.9 1076.5,200.0" fill="none" stroke="#ffa500" stroke-width="1" />
<polyline points="0.5,526.7 4.5,526.6 8.5,526.4 12.5,526.5 16.5,526.7 20.5,527.1 24.5,526.9 28.5,526.6 32.5,526.1 36.5,525.7 40.5,525.3 44.5,524.9 48.5,524.6 52.5,524.1 56.5,524.0 60.5,523.8 64.5,523.3 68.5,522.9 72.5,522.3 76.5,521.3 80.5,520.9 84.5,520.3 88.5,519.8 92.5,519.2 96.5,518.9 100.5,518.9 104.5,519.7 108.5,520.2 112.5,520.9 116.5,521.5 120.5,522.0 124.5,522.8 128.5,523.3 132.5,524.0 136.5,524.6 140.5,525.2 144.5,525.9 148.5,526.2 152.5,526.3 156.5,526.5 160.5,526.7 164.5,527.0 168.5,527.1 172.5,527.9 176.5,528.7 180.5,529.4 184.5,530.0 188.5,530.6 192.5,530.8 196.5,530.2 200.5,529.2 204.5,528.3 208.5,527.2 212.5,526.2 216.5,524.7 220.5,523.1 224.5,521.4 228.5,519.7 232.5,518.1 236.5,516.4 240.5,515.3 244.5,514.1 248.5,512.7 252.5,511.6 256.5,510.7 260.5,510.0 264.5,509.1 268.5,507.7 272.5,506.9 276.5,506.1 280.5,505.1 284.5,504.2 288.5,503.6 292.5,502.9 296.5,502.6 300.5,502.2 304.5,501.7 308.5,501.4 312.5,501.3 316.5,501.6 320.5,501.8 324.5,502.1 328.5,502.4 332.5,502.7 336.5,503.7 340.5,504.5 344.5,504.7 348.5,505.2 352.5,505.8 356.5,506.0 360.5,505.7 364.5,505.3 368.5,504.7 372.5,504.0 376.5,501.7 380.5,498.5 384.5,495.3 388.5,492.8 392.5,490.3 396.5,487.8 400.5,484.9 404.5,481.6 408.5,476.7 412.5,471.7 416.5,468.0 420.5,464.3 424.5,460.7 428.5,456.3 432.5,452.9 436.5,450.1 440.5,447.2 444.5,443.7 448.5,439.8 452.5,436.5 456.5,433.5 460.5,429.8 464.5,424.8 468.5,421.4 472.5,417.8 476.5,413.8 480.5,408.3 484.5,400.5 488.5,391.4 492.5,382.9 496.5,361.4 500.5,346.8 504.5,334.2 508.5,322.9 512.5,314.6 516.5,312.4 520.5,310.4 524.5,306.3 528.5,303.9 532.5,301.4 536.5,303.3 540.5,301.9 544.5,302.7 548.5,303.1 552.5,301.1 556.5,301.9 560.5,300.8 564.5,299.7 568.5,296.1 572.5,293.0 576.5,291.2 580.5,287.7 584.5,284.7 588.5,280.9 592.5,277.7 596.5,275.1 600.5,272.3 604.5,270.4 608.5,266.7 612.5,262.6 616.5,259.0 620.5,255.5 624.5,251.8 628.5,251.0 632.5,249.7 636.5,248.3 640.5,246.0 644.5,242.7 648.5,240.6 652.5,239.2 656.5,237.4 660.5,235.8 664.5,234.8 668.5,235.4 672.5,234.7 676.5,232.2 680.5,231.5 684.5,229.0 688.5,227.0 692.5,226.2 696.5,226.1 700.5,225.7 704.5,225.4 708.5,225.9 712.5,227.3 716.5,228.5 720.5,228.4 724.5,228.1 728.5,226.8 732.5,225.5 736.5,224.1 740.5,222.6 744.5,221.0 748.5,224.8 752.5,228.8 756.5,232.4 760.5,234.5 764.5,236.6 768.5,239.3 772.5,241.0 776.5,242.8 780.5,246.5 784.5,250.5 788.5,253.3 792.5,256.9 796.5,259.8 800.5,261.9 804.5,263.2 808.5,264.5 812.5,265.1 816.5,265.0 820.5,265.2 824.5,263.9 828.5,263.5 832.5,263.3 836.5,262.7 840.5,260.9 844.5,258.2 848.5,255.2 852.5,250.9 856.5,246.2 860.5,242.1 864.5,237.6 868.5,232.6 872.5,227.1 876.5,220.7 880.5,216.4 884.5,211.6 888.5,207.3 892.5,203.2 896.5,199.9 900.5,196.6 904.5,192.8 908.5,190.1 912.5,188.3 916.5,187.3 920.5,186.3 924.5,185.4 928.5,182.2 932.5,178.3 936.5,173.7 940.5,167.7 944.5,161.5 948.5,155.6 952.5,150.2 956.5,145.0 960.5,140.3 964.5,135.4 968.5,129.8 972.5,124.4 976.5,119.5 980.5,114.0 984.5,110.4 988.5,104.9 992.5,101.0 996.5,98.7 1000.5,104.6 1004.5,111.7 1008.5,118.3 1012.5,125.1 1016.5,131.2 1020.5,136.5 1024.5,141.5 1028.5,146.3 1032.5,150.9 1036.5,153.6 1040.5,158.7 1044.5,162.8 1048.5,166.6 1052.5,170.3 1056.5,174.2 1060.5,177.9 1064.5,181.7 1068.5,186.7 1072.5,186.7 1076.5,186.2" fill="none" stroke="#ff4500" stroke-width="1" />
<polyline points="0.5,526.7 4.5,526.6 8.5,526.4 12.5,526.5 16.5,526.8 20.5,527.1 24.5,526.9 28.5,526.7 32.5,526.2 36.5,525.9 40.5,525.5 44.5,525.2 48.5,524.9 52.5,524.4 56.5,524.3 60.5,524.1 64.5,523.7 68.5,523.3 72.5,522.7 76.5,521.8 80.5,521.4 84.5,520.8 88.5,520.3 92.5,519.7 96.5,519.4 100.5,519.4 104.5,520.0 108.5,520.5 112.5,521.0 116.5,521.6 120.5,522.0 124.5,522.7 128.5,523.2 132.5,523.8 136.5,524.4 140.5,524.9 144.5,525.5 148.5,525.8 152.5,525.9 156.5,526.1 160.5,526.3 164.5,526.6 168.5,526.7 172.5,527.5 176.5,528.2 180.5,528.9 184.5,529.5 188.5,530.0 192.5,530.2 196.5,529.8 200.5,528.9 204.5,528.1 208.5,527.1 212.5,526.2 216.5,524.9 220.5,523.5 224.5,522.0 228.5,520.5 232.5,519.1 236.5,517.5 240.5,516.5 244.5,515.3 248.5,514.0 252.5,512.9 256.5,512.0 260.5,511.3 264.5,510.4 268.5,509.0 272.5,508.2 276.5,507.4 280.5,506.4 284.5,505.4 288.5,504.8 292.5,504.1 296.5,503.7 300.5,503.3 304.5,502.7 308.5,502.4 312.5,502.1 316.5,502.2 320.5,502.2 324.5,502.3 328.5,502.5 332.5,502.7 336.5,503.5 340.5,504.2 344.5,504.4 348.5,504.8 352.5,505.4 356.5,505.6 360.5,505.4 364.5,505.0 368.5,504.5 372.5,503.9 376.5,501.8 380.5,498.8 384.5,495.9 388.5,493.6 392.5,491.3 396.5,489.0 400.5,486.2 404.5,483.3 408.5,478.7 412.5,474.1 416.5,470.6 420.5,467.2 424.5,463.8 428.5,459.6 432.5,456.4 436.5,453.7 440.5,450.8 444.5,447.5 448.5,443.7 452.5,440.5 456.5,437.4 460.5,433.8 464.5,429.0 468.5,425.6 472.5,422.0 476.5,418.0 480.5,412.7 484.5,405.2 488.5,396.5 492.5,388.2 496.5,368.1 500.5,354.2 504.5,342.0 508.5,330.9 512.5,322.7 516.5,320.1 520.5,317.7 524.5,313.4 528.5,310.6 532.5,307.8 536.5,309.0 540.5,307.2 544.5,307.5 548.5,307.5 552.5,305.3 556.5,305.7 560.5,304.3 564.5,302.8 568.5,299.1 572.5,295.8 576.5,293.7 580.5,290.0 584.5,286.8 588.5,282.8 592.5,279.4 596.5,276.5 600.5,273.5 604.5,271.3 608.5,267.3 612.5,263.0 616.5,259.3 620.5,255.9 624.5,252.4 628.5,252.0 632.5,251.2 636.5,250.6 640.5,248.9 644.5,246.2 648.5,244.3 652.5,242.8 656.5,241.0 660.5,239.3 664.5,238.2 668.5,238.3 672.5,237.4 676.5,234.6 680.5,233.6 684.5,230.8 688.5,228.6 692.5,227.4 696.5,227.0 700.5,226.3 704.5,225.9 708.5,226.2 712.5,227.3 716.5,228.3 720.5,228.1 724.5,227.9 728.5,226.7 732.5,225.5 736.5,224.1 740.5,222.7 744.5,221.3 748.5,224.9 752.5,228.6 756.5,232.1 760.5,234.1 764.5,236.1 768.5,238.5 772.5,240.0 776.5,241.6 780.5,245.1 784.5,248.8 788.5,251.5 792.5,254.9 796.5,257.6 800.5,259.5 804.5,260.8 808.5,262.0 812.5,262.7 816.5,262.8 820.5,263.2 824.5,262.3 828.5,262.0 832.5,262.1 836.5,261.6 840.5,260.1 844.5,257.8 848.5,255.1 852.5,251.3 856.5,247.0 860.5,243.5 864.5,239.5 868.5,235.2 872.5,230.3 876.5,224.7 880.5,220.7 884.5,216.2 888.5,211.9 892.5,207.8 896.5,204.5 900.5,201.2 904.5,197.5 908.5,194.7 912.5,192.8 916.5,191.5 920.5,190.1 924.5,188.8 928.5,185.5 932.5,181.4 936.5,176.8 940.5,170.9 944.5,164.9 948.5,159.2 952.5,153.8 956.5,148.7 960.5,144.1 964.5,139.2 968.5,133.6 972.5,128.3 976.5,123.4 980.5,118.1 984.5,114.5 988.5,109.2 992.5,105.3 996.5,103.0 1000.5,108.1 1004.5,114.5 1008.5,120.3 1012.5,126.4 1016.5,131.9 1020.5,136.5 1024.5,141.1 1028.5,145.3 1032.5,149.3 1036.5,151.8 1040.5,156.3 1044.5,159.9 1048.5,163.2 1052.5,166.3 1056.5,169.6 1060.5,172.8 1064.5,176.3 1068.5,180.9 1072.5,181.1 1076.5,180.9" fill="none" stroke="#ff0000" stroke-width="1" />
<polyline points="0.5,526.7 4.5,526.7 8.5,526.5 12.5,526.5 16.5,526.8 20.5,527.1 24.5,527.0 28.5,526.8 32.5,526.4 36.5,526.1 40.5,525.9 44.5,525.6 48.5,525.3 52.5,524.9 56.5,524.8 60.5,524.6 64.5,524.2 68.5,523.9 72.5,523.3 76.5,522.5 80.5,522.1 84.5,521.5 88.5,521.0 92.5,520.5 96.5,520.1 100.5,520.0 104.5,520.5 108.5,520.9 112.5,521.3 116.5,521.8 120.5,522.1 124.5,522.7 128.5,523.1 132.5,523.7 136.5,524.2 140.5,524.7 144.5,525.2 148.5,525.4 152.5,525.5 156.5,525.7 160.5,525.9 164.5,526.1 168.5,526.3 172.5,526.9 176.5,527.5 180.5,528.1 184.5,528.7 188.5,529.2 192.5,529.4 196.5,529.0 200.5,528.3 204.5,527.6 208.5,526.8 212.5,526.0 216.5,524.9 220.5,523.7 224.5,522.5 228.5,521.2 232.5,520.0 236.5,518.8 240.5,517.9 244.5,516.9 248.5,515.8 252.5,514.8 256.5,513.9 260.5,513.2 264.5,512.3 268.5,511.0 272.5,510.2 276.5,509.4 280.5,508.4 284.5,507.4 288.5,506.7 292.5,506.0 296.5,505.5 300.5,505.0 304.5,504.4 308.5,504.0 312.5,503.6 316.5,503.6 320.5,503.4 324.5,503.3 328.5,503.3 332.5,503.3 336.5,503.8 340.5,504.3 344.5,504.3 348.5,504.6 352.5,505.0 356.5,505.2 360.5,505.0 364.5,504.6 368.5,504.2 372.5,503.6 376.5,501.8 380.5,499.2 384.5,496.6 388.5,494.6 392.5,492.6 396.5,490.5 400.5,488.1 404.5,485.5 408.5,481.4 412.5,477.3 416.5,474.2 420.5,471.0 424.5,467.9 428.5,464.2 432.5,461.2 436.5,458.6 440.5,456.0 444.5,452.8 448.5,449.3 452.5,446.3 456.5,443.3 460.5,439.9 464.5,435.4 468.5,432.1 472.5,428.7 476.5,424.9 480.5,419.9 484.5,413.0 488.5,404.9 492.5,397.1 496.5,378.7 500.5,365.7 504.5,354.2 508.5,343.5 512.5,335.3 516.5,332.1 520.5,328.9 524.5,324.2 528.5,321.0 532.5,317.8 536.5,318.1 540.5,315.9 544.5,315.5 548.5,314.9 552.5,312.3 556.5,312.1 560.5,310.4 564.5,308.7 568.5,304.9 572.5,301.5 576.5,299.1 580.5,295.3 584.5,292.0 588.5,287.9 592.5,284.2 596.5,281.0 600.5,277.6 604.5,274.9 608.5,270.7 612.5,266.2 616.5,262.1 620.5,258.3 624.5,254.5 628.5,253.5 632.5,252.4 636.5,251.5 640.5,250.1 644.5,248.1 648.5,247.0 652.5,246.3 656.5,245.3 660.5,244.1 664.5,243.2 668.5,243.2 672.5,242.1 676.5,239.3 680.5,238.0 684.5,235.2 688.5,232.7 692.5,231.1 696.5,230.1 700.5,228.9 704.5,228.0 708.5,227.7 712.5,228.3 716.5,228.8 720.5,228.4 724.5,228.0 728.5,226.8 732.5,225.6 736.5,224.3 740.5,223.1 744.5,221.8 748.5,224.9 752.5,228.2 756.5,231.3 760.5,233.1 764.5,235.0 768.5,237.3 772.5,238.8 776.5,240.3 780.5,243.4 784.5,246.7 788.5,249.1 792.5,252.1 796.5,254.6 800.5,256.4 804.5,257.7 808.5,258.9 812.5,259.6 816.5,259.8 820.5,260.2 824.5,259.5 828.5,259.5 832.5,259.8 836.5,259.7 840.5,258.6 844.5,256.8 848.5,254.7 852.5,251.5 856.5,247.9 860.5,244.9 864.5,241.5 868.5,237.7 872.5,233.5 876.5,228.6 880.5,225.2 884.5,221.3 888.5,217.7 892.5,214.1 896.5,211.1 900.5,208.0 904.5,204.3 908.5,201.5 912.5,199.4 916.5,197.8 920.5,196.3 924.5,194.7 928.5,191.3 932.5,187.3 936.5,182.8 940.5,177.0 944.5,171.2 948.5,165.5 952.5,160.3 956.5,155.3 960.5,150.6 964.5,145.8 968.5,140.4 972.5,135.2 976.5,130.3 980.5,125.1 984.5,121.3 988.5,116.1 992.5,112.1 996.5,109.6 1000.5,113.6 1004.5,118.8 1008.5,123.6 1012.5,128.6 1016.5,133.3 1020.5,137.2 1024.5,141.0 1028.5,144.6 1032.5,148.1 1036.5,150.2 1040.5,154.0 1044.5,157.0 1048.5,159.8 1052.5,162.4 1056.5,165.1 1060.5,167.7 1064.5,170.5 1068.5,174.4 1072.5,174.3 1076.5,174.0" fill="none" stroke="#ff0000" stroke-width="1" />
<polyline points="0.5,526.7 4.5,526.7 8.5,526.6 12.5,526.6 16.5,526.9 20.5,527.1 24.5,527.1 28.5,527.0 32.5,526.7 36.5,526.6 40.5,526.4 44.5,526.2 48.5,526.0 52.5,525.7 56.5,525.6 60.5,525.4 64.5,525.1 68.5,524.8 72.5,524.3 76.5,523.6 80.5,523.2 84.5,522.7 88.5,522.2 92.5,521.7 96.5,521.3 100.5,521.1 104.5,521.4 108.5,521.6 112.5,521.9 116.5,522.2 120.5,522.5 124.5,522.9 128.5,523.2 132.5,523.7 136.5,524.1 140.5,524.5 144.5,524.9 148.5,525.2 152.5,525.3 156.5,525.5 160.5,525.7 164.5,525.9 168.5,526.0 172.5,526.5 176.5,527.0 180.5,527.4 184.5,527.8 188.5,528.2 192.5,528.3 196.5,528.0 200.5,527.3 204.5,526.8 208.5,526.1 212.5,525.5 216.5,524.6 220.5,523.7 224.5,522.8 228.5,521.8 232.5,520.9 236.5,519.9 240.5,519.3 244.5,518.5 248.5,517.6 252.5,516.9 256.5,516.2 260.5,515.6 264.5,514.9 268.5,513.9 272.5,513.2 276.5,512.4 280.5,511.6 284.5,510.8 288.5,510.1 292.5,509.4 296.5,508.9 300.5,508.3 304.5,507.6 308.5,507.1 312.5,506.6 316.5,506.4 320.5,506.1 324.5,505.8 328.5,505.6 332.5,505.4 336.5,505.7 340.5,505.9 344.5,505.8 348.5,505.9 352.5,506.1 356.5,506.1 360.5,505.7 364.5,505.3 368.5,504.7 372.5,504.0 376.5,502.3 380.5,500.0 384.5,497.8 388.5,496.0 392.5,494.3 396.5,492.7 400.5,490.7 404.5,488.5 408.5,485.2 412.5,481.9 416.5,479.3 420.5,476.6 424.5,474.0 428.5,470.8 432.5,468.2 436.5,466.0 440.5,463.6 444.5,460.9 448.5,457.8 452.5,455.1 456.5,452.5 460.5,449.5 464.5,445.6 468.5,442.8 472.5,439.9 476.5,436.7 480.5,432.4 484.5,426.6 488.5,419.7 492.5,412.9 496.5,397.4 500.5,385.9 504.5,375.4 508.5,365.6 512.5,357.6 516.5,353.5 520.5,349.6 524.5,344.4 528.5,340.5 532.5,336.6 536.5,335.7 540.5,332.7 544.5,331.3 548.5,329.8 552.5,326.9 556.5,325.8 560.5,323.5 564.5,321.3 568.5,317.5 572.5,314.1 576.5,311.4 580.5,307.7 584.5,304.3 588.5,300.3 592.5,296.6 596.5,293.2 600.5,289.5 604.5,286.4 608.5,282.0 612.5,277.2 616.5,272.7 620.5,268.4 624.5,264.2 628.5,262.2 632.5,260.1 636.5,258.3 640.5,256.2 644.5,253.6 648.5,251.9 652.5,250.6 656.5,249.2 660.5,247.8 664.5,247.0 668.5,247.0 672.5,246.2 676.5,244.3 680.5,243.4 684.5,241.3 688.5,239.6 692.5,238.3 696.5,237.6 700.5,236.4 704.5,235.4 708.5,234.6 712.5,234.5 716.5,234.2 720.5,233.3 724.5,232.2 728.5,230.6 732.5,229.0 736.5,227.3 740.5,225.8 744.5,224.2 748.5,226.3 752.5,228.6 756.5,230.9 760.5,232.2 764.5,233.6 768.5,235.4 772.5,236.6 776.5,237.9 780.5,240.5 784.5,243.3 788.5,245.4 792.5,248.1 796.5,250.3 800.5,251.9 804.5,253.2 808.5,254.4 812.5,255.2 816.5,255.6 820.5,256.1 824.5,255.7 828.5,255.8 832.5,256.2 836.5,256.3 840.5,255.6 844.5,254.4 848.5,252.9 852.5,250.7 856.5,248.1 860.5,245.9 864.5,243.3 868.5,240.4 872.5,237.1 876.5,233.1 880.5,230.2 884.5,227.0 888.5,223.9 892.5,220.9 896.5,218.3 900.5,215.6 904.5,212.6 908.5,210.2 912.5,208.4 916.5,207.0 920.5,205.5 924.5,204.0 928.5,201.0 932.5,197.5 936.5,193.6 940.5,188.6 944.5,183.5 948.5,178.4 952.5,173.6 956.5,168.9 960.5,164.4 964.5,159.8 968.5,154.6 972.5,149.6 976.5,144.8 980.5,139.7 984.5,135.7 988.5,130.6 992.5,126.5 996.5,123.5 1000.5,125.7 1004.5,128.9 1008.5,131.9 1012.5,135.1 1016.5,138.1 1020.5,140.7 1024.5,143.3 1028.5,145.7 1032.5,148.2 1036.5,149.5 1040.5,152.4 1044.5,154.7 1048.5,156.7 1052.5,158.7 1056.5,160.8 1060.5,162.8 1064.5,164.9 1068.5,167.9 1072.5,167.8 1076.5,167.4" fill="none" stroke="#191970" stroke-width="5" stroke-linejoin="miter"/>
</g>
<g shape-rendering="crispEdges">
<polyline points="0.0,534.0 4.8,538.2 76.0,505.7 124.9,538.9 172.5,521.9 176.2,542.2 272.5,491.4 340.3,525.3 500.3,16.2 537.0,406.0 616.6,171.6 672.3,265.6 744.3,172.7 748.0,330.7 880.0,127.0 912.6,221.4 991.8,30.2 1000.3,273.6 1072.4,141.2" fill="none" stroke="#ff0000" stroke-width="2" stroke-linejoin="round"/>
</g>
<g shape-rendering="crispEdges">
<rect x="0" y="516" width="1" height="13" fill="#2f4f4f"/>
<rect x="-1" y="521" width="3" height="8" fill="#2f4f4f"/>
<rect x="0" y="522" width="1" height="6" fill="#90ee90"/>
<rect x="4" y="526" width="1" height="13" fill="#8b0000"/>
<rect x="3" y="526" width="3" height="2" fill="#8b0000"/>
<rect x="8" y="518" width="1" height="11" fill="#8b0000"/>
<rect x="7" y="523" width="3" height="5" fill="#8b0000"/>
<rect x="8" y="524" width="1" height="3" fill="#ff0000"/>
<rect x="12" y="522" width="1" height="7" fill="#2f4f4f"/>
<rect x="11" y="523" width="3" height="5" fill="#2f4f4f"/>
<rect x="12" y="524" width="1" height="3" fill="#90ee90"/>
<rect x="16" y="528" width="1" height="7" fill="#8b0000"/>
<rect x="15" y="530" width="3" height="4" fill="#8b0000"/>
<rect x="16" y="531" width="1" height="2" fill="#ff0000"/>
<rect x="20" y="530" width="1" height="3" fill="#2f4f4f"/>
<rect x="19" y="531" width="3" height="1" fill="#2f4f4f"/>
<rect x="24" y="523" width="1" height="13" fill="#8b0000"/>
<rect x="23" y="523" width="3" height="11" fill="#8b0000"/>
<rect x="24" y="524" width="1" height="9" fill="#ff0000"/>
<rect x="28" y="519" width="1" height="12" fill="#8b0000"/>
<rect x="27" y="520" width="3" height="5" fill="#8b0000"/>
<rect x="28" y="521" width="1" height="3" fill="#ff0000"/>
<rect x="32" y="514" width="1" height="10" fill="#8b0000"/>
<rect x="31" y="517" width="3" height="6" fill="#8b0000"/>
<rect x="32" y="518" width="1" height="4" fill="#ff0000"/>
<rect x="36" y="516" width="1" height="4" fill="#2f4f4f"/>
<rect x="35" y="517" width="3" height="3" fill="#2f4f4f"/>
<rect x="36" y="518" width="1" height="1" fill="#90ee90"/>
<rect x="40" y="518" width="1" height="3" fill="#2f4f4f"/>
<rect x="39" y="519" width="3" height="1" fill="#2f4f4f"/>
<rect x="44" y="518" width="1" height="4" fill="#8b0000"/>
<rect x="43" y="518" width="3" height="3" fill="#8b0000"/>
<rect x="44" y="519" width="1" height="1" fill="#ff0000"/>
<rect x="48" y="516" width="1" height="7" fill="#2f4f4f"/>
<rect x="47" y="518" width="3" height="2" fill="#2f4f4f"/>
<rect x="52" y="516" width="1" height="5" fill="#8b0000"/>
<rect x="51" y="517" width="3" height="4" fill="#8b0000"/>
<rect x="52" y="518" width="1" height="2" fill="#ff0000"/>
<rect x="56" y="516" width="1" height="11" fill="#2f4f4f"/>
<rect x="55" y="518" width="3" height="6" fill="#2f4f4f"/>
<rect x="56" y="519" width="1" height="4" fill="#90ee90"/>
<rect x="60" y="520" width="1" height="6" fill="#8b0000"/>
<rect x="59" y="520" width="3" height="5" fill="#8b0000"/>
<rect x="60" y="521" width="1" height="3" fill="#ff0000"/>
<rect x="64" y="516" width="1" height="6" fill="#8b0000"/>
<rect x="63" y="517" width="3" height="4" fill="#8b0000"/>
<rect x="64" y="518" width="1" height="2" fill="#ff0000"/>
<rect x="68" y="517" width="1" height="4" fill="#2f4f4f"/>
<rect x="67" y="518" width="3" height="1" fill="#2f4f4f"/>
<rect x="72" y="513" width="1" height="7" fill="#8b0000"/>
<rect x="71" y="514" width="3" height="5" fill="#8b0000"/>
<rect x="72" y="515" width="1" height="3" fill="#ff0000"/>
<rect x="76" y="505" width="1" height="11" fill="#8b0000"/>
<rect x="75" y="508" width="3" height="8" fill="#8b0000"/>
<rect x="76" y="509" width="1" height="6" fill="#ff0000"/>
<rect x="80" y="507" width="1" height="13" fill="#2f4f4f"/>
<rect x="79" y="508" width="3" height="11" fill="#2f4f4f"/>
<rect x="80" y="509" width="1" height="9" fill="#90ee90"/>
<rect x="84" y="512" width="1" height="8" fill="#8b0000"/>
<rect x="83" y="513" width="3" height="5" fill="#8b0000"/>
<rect x="84" y="514" width="1" height="3" fill="#ff0000"/>
<rect x="88" y="514" width="1" height="3" fill="#2f4f4f"/>
<rect x="87" y="515" width="3" height="1" fill="#2f4f4f"/>
<rect x="92" y="512" width="1" height="6" fill="#2f4f4f"/>
<rect x="91" y="514" width="3" height="2" fill="#2f4f4f"/>
<rect x="96" y="512" width="1" height="9" fill="#2f4f4f"/>
<rect x="95" y="515" width="3" height="4" fill="#2f4f4f"/>
<rect x="96" y="516" width="1" height="2" fill="#90ee90"/>
<rect x="100" y="517" width="1" height="7" fill="#2f4f4f"/>
<rect x="99" y="518" width="3" height="5" fill="#2f4f4f"/>
<rect x="100" y="519" width="1" height="3" fill="#90ee90"/>
<rect x="104" y="522" width="1" height="15" fill="#2f4f4f"/>
<rect x="103" y="523" width="3" height="13" fill="#2f4f4f"/>
<rect x="104" y="524" width="1" height="11" fill="#90ee90"/>
<rect x="108" y="530" width="1" height="9" fill="#8b0000"/>
<rect x="107" y="531" width="3" height="5" fill="#8b0000"/>
<rect x="108" y="532" width="1" height="3" fill="#ff0000"/>
<rect x="112" y="532" width="1" height="3" fill="#2f4f4f"/>
<rect x="111" y="533" width="3" height="1" fill="#2f4f4f"/>
<rect x="116" y="532" width="1" height="4" fill="#8b0000"/>
<rect x="115" y="533" width="3" height="2" fill="#8b0000"/>
<rect x="120" y="529" width="1" height="8" fill="#8b0000"/>
<rect x="119" y="530" width="3" height="5" fill="#8b0000"/>
<rect x="120" y="531" width="1" height="3" fill="#ff0000"/>
<rect x="124" y="530" width="1" height="10" fill="#2f4f4f"/>
<rect x="123" y="530" width="3" height="6" fill="#2f4f4f"/>
<rect x="124" y="531" width="1" height="4" fill="#90ee90"/>
<rect x="128" y="529" width="1" height="9" fill="#8b0000"/>
<rect x="127" y="530" width="3" height="6" fill="#8b0000"/>
<rect x="128" y="531" width="1" height="4" fill="#ff0000"/>
<rect x="132" y="531" width="1" height="7" fill="#2f4f4f"/>
<rect x="131" y="532" width="3" height="3" fill="#2f4f4f"/>
<rect x="132" y="533" width="1" height="1" fill="#90ee90"/>
<rect x="136" y="531" width="1" height="3" fill="#2f4f4f"/>
<rect x="135" y="532" width="3" height="1" fill="#2f4f4f"/>
<rect x="140" y="532" width="1" height="3" fill="#8b0000"/>
<rect x="139" y="532" width="3" height="2" fill="#8b0000"/>
<rect x="144" y="531" width="1" height="6" fill="#8b0000"/>
<rect x="143" y="532" width="3" height="2" fill="#8b0000"/>
<rect x="148" y="526" width="1" height="8" fill="#8b0000"/>
<rect x="147" y="527" width="3" height="7" fill="#8b0000"/>
<rect x="148" y="528" width="1" height="5" fill="#ff0000"/>
<rect x="152" y="524" width="1" height="5" fill="#8b0000"/>
<rect x="151" y="524" width="3" height="5" fill="#8b0000"/>
<rect x="152" y="525" width="1" height="3" fill="#ff0000"/>
<rect x="156" y="525" width="1" height="3" fill="#2f4f4f"/>
<rect x="155" y="526" width="3" height="1" fill="#2f4f4f"/>
<rect x="160" y="525" width="1" height="3" fill="#2f4f4f"/>
<rect x="159" y="526" width="3" height="1" fill="#2f4f4f"/>
<rect x="164" y="526" width="1" height="3" fill="#2f4f4f"/>
<rect x="163" y="527" width="3" height="1" fill="#2f4f4f"/>
<rect x="168" y="525" width="1" height="7" fill="#8b0000"/>
<rect x="167" y="526" width="3" height="3" fill="#8b0000"/>
<rect x="168" y="527" width="1" height="1" fill="#ff0000"/>
<rect x="172" y="520" width="1" height="19" fill="#2f4f4f"/>
<rect x="171" y="526" width="3" height="12" fill="#2f4f4f"/>
<rect x="172" y="527" width="1" height="10" fill="#90ee90"/>
<rect x="176" y="536" width="1" height="7" fill="#2f4f4f"/>
<rect x="175" y="536" width="3" height="2" fill="#2f4f4f"/>
<rect x="180" y="536" width="1" height="3" fill="#2f4f4f"/>
<rect x="179" y="537" width="3" height="1" fill="#2f4f4f"/>
<rect x="184" y="536" width="1" height="3" fill="#8b0000"/>
<rect x="183" y="536" width="3" height="3" fill="#8b0000"/>
<rect x="184" y="537" width="1" height="1" fill="#ff0000"/>
<rect x="188" y="535" width="1" height="4" fill="#8b0000"/>
<rect x="187" y="536" width="3" height="2" fill="#8b0000"/>
<rect x="192" y="530" width="1" height="9" fill="#8b0000"/>
<rect x="191" y="531" width="3" height="7" fill="#8b0000"/>
<rect x="192" y="532" width="1" height="5" fill="#ff0000"/>
<rect x="196" y="517" width="1" height="16" fill="#8b0000"/>
<rect x="195" y="519" width="3" height="13" fill="#8b0000"/>
<rect x="196" y="520" width="1" height="11" fill="#ff0000"/>
<rect x="200" y="510" width="1" height="13" fill="#8b0000"/>
<rect x="199" y="511" width="3" height="10" fill="#8b0000"/>
<rect x="200" y="512" width="1" height="8" fill="#ff0000"/>
<rect x="204" y="508" width="1" height="7" fill="#2f4f4f"/>
<rect x="203" y="512" width="3" height="2" fill="#2f4f4f"/>
<rect x="208" y="509" width="1" height="7" fill="#8b0000"/>
<rect x="207" y="510" width="3" height="5" fill="#8b0000"/>
<rect x="208" y="511" width="1" height="3" fill="#ff0000"/>
<rect x="212" y="508" width="1" height="5" fill="#2f4f4f"/>
<rect x="211" y="510" width="3" height="2" fill="#2f4f4f"/>
<rect x="216" y="501" width="1" height="11" fill="#8b0000"/>
<rect x="215" y="503" width="3" height="8" fill="#8b0000"/>
<rect x="216" y="504" width="1" height="6" fill="#ff0000"/>
<rect x="220" y="498" width="1" height="8" fill="#8b0000"/>
<rect x="219" y="500" width="3" height="5" fill="#8b0000"/>
<rect x="220" y="501" width="1" height="3" fill="#ff0000"/>
<rect x="224" y="496" width="1" height="13" fill="#8b0000"/>
<rect x="223" y="499" width="3" height="3" fill="#8b0000"/>
<rect x="224" y="500" width="1" height="1" fill="#ff0000"/>
<rect x="228" y="495" width="1" height="11" fill="#8b0000"/>
<rect x="227" y="497" width="3" height="4" fill="#8b0000"/>
<rect x="228" y="498" width="1" height="2" fill="#ff0000"/>
<rect x="232" y="495" width="1" height="7" fill="#8b0000"/>
<rect x="231" y="497" width="3" height="3" fill="#8b0000"/>
<rect x="232" y="498" width="1" height="1" fill="#ff0000"/>
<rect x="236" y="494" width="1" height="7" fill="#8b0000"/>
<rect x="235" y="496" width="3" height="4" fill="#8b0000"/>
<rect x="236" y="497" width="1" height="2" fill="#ff0000"/>
<rect x="240" y="496" width="1" height="10" fill="#2f4f4f"/>
<rect x="239" y="496" width="3" height="9" fill="#2f4f4f"/>
<rect x="240" y="497" width="1" height="7" fill="#90ee90"/>
<rect x="244" y="500" width="1" height="6" fill="#8b0000"/>
<rect x="243" y="501" width="3" height="4" fill="#8b0000"/>
<rect x="244" y="502" width="1" height="2" fill="#ff0000"/>
<rect x="248" y="496" width="1" height="10" fill="#8b0000"/>
<rect x="247" y="498" width="3" height="5" fill="#8b0000"/>
<rect x="248" y="499" width="1" height="3" fill="#ff0000"/>
<rect x="252" y="498" width="1" height="5" fill="#2f4f4f"/>
<rect x="251" y="499" width="3" height="4" fill="#2f4f4f"/>
<rect x="252" y="500" width="1" height="2" fill="#90ee90"/>
<rect x="256" y="502" width="1" height="9" fill="#8b0000"/>
<rect x="255" y="504" width="3" height="2" fill="#8b0000"/>
<rect x="260" y="503" width="1" height="5" fill="#2f4f4f"/>
<rect x="259" y="504" width="3" height="3" fill="#2f4f4f"/>
<rect x="260" y="505" width="1" height="1" fill="#90ee90"/>
<rect x="264" y="500" width="1" height="9" fill="#8b0000"/>
<rect x="263" y="502" width="3" height="6" fill="#8b0000"/>
<rect x="264" y="503" width="1" height="4" fill="#ff0000"/>
<rect x="268" y="493" width="1" height="11" fill="#8b0000"/>
<rect x="267" y="494" width="3" height="9" fill="#8b0000"/>
<rect x="268" y="495" width="1" height="7" fill="#ff0000"/>
<rect x="272" y="491" width="1" height="12" fill="#2f4f4f"/>
<rect x="271" y="494" width="3" height="9" fill="#2f4f4f"/>
<rect x="272" y="495" width="1" height="7" fill="#90ee90"/>
<rect x="276" y="500" width="1" height="3" fill="#8b0000"/>
<rect x="275" y="501" width="3" height="1" fill="#8b0000"/>
<rect x="280" y="496" width="1" height="9" fill="#8b0000"/>
<rect x="279" y="497" width="3" height="6" fill="#8b0000"/>
<rect x="280" y="498" width="1" height="4" fill="#ff0000"/>
<rect x="284" y="495" width="1" height="4" fill="#2f4f4f"/>
<rect x="283" y="496" width="3" height="2" fill="#2f4f4f"/>
<rect x="288" y="496" width="1" height="7" fill="#2f4f4f"/>
<rect x="287" y="497" width="3" height="5" fill="#2f4f4f"/>
<rect x="288" y="498" width="1" height="3" fill="#90ee90"/>
<rect x="292" y="493" width="1" height="10" fill="#8b0000"/>
<rect x="291" y="499" width="3" height="4" fill="#8b0000"/>
<rect x="292" y="500" width="1" height="2" fill="#ff0000"/>
<rect x="296" y="497" width="1" height="11" fill="#2f4f4f"/>
<rect x="295" y="500" width="3" height="6" fill="#2f4f4f"/>
<rect x="296" y="501" width="1" height="4" fill="#90ee90"/>
<rect x="300" y="500" width="1" height="8" fill="#8b0000"/>
<rect x="299" y="502" width="3" height="4" fill="#8b0000"/>
<rect x="300" y="503" width="1" height="2" fill="#ff0000"/>
<rect x="304" y="500" width="1" height="6" fill="#8b0000"/>
<rect x="303" y="501" width="3" height="4" fill="#8b0000"/>
<rect x="304" y="502" width="1" height="2" fill="#ff0000"/>
<rect x="308" y="498" width="1" height="8" fill="#2f4f4f"/>
<rect x="307" y="500" width="3" height="3" fill="#2f4f4f"/>
<rect x="308" y="501" width="1" height="1" fill="#90ee90"/>
<rect x="312" y="502" width="1" height="8" fill="#2f4f4f"/>
<rect x="311" y="503" width="3" height="2" fill="#2f4f4f"/>
<rect x="316" y="500" width="1" height="11" fill="#2f4f4f"/>
<rect x="315" y="504" width="3" height="7" fill="#2f4f4f"/>
<rect x="316" y="505" width="1" height="5" fill="#90ee90"/>
<rect x="320" y="506" width="1" height="7" fill="#8b0000"/>
<rect x="319" y="507" width="3" height="4" fill="#8b0000"/>
<rect x="320" y="508" width="1" height="2" fill="#ff0000"/>
<rect x="324" y="506" width="1" height="5" fill="#2f4f4f"/>
<rect x="323" y="508" width="3" height="1" fill="#2f4f4f"/>
<rect x="328" y="505" width="1" height="6" fill="#2f4f4f"/>
<rect x="327" y="507" width="3" height="2" fill="#2f4f4f"/>
<rect x="332" y="507" width="1" height="4" fill="#8b0000"/>
<rect x="331" y="508" width="3" height="1" fill="#8b0000"/>
<rect x="336" y="506" width="1" height="15" fill="#2f4f4f"/>
<rect x="335" y="508" width="3" height="11" fill="#2f4f4f"/>
<rect x="336" y="509" width="1" height="9" fill="#90ee90"/>
<rect x="340" y="515" width="1" height="11" fill="#8b0000"/>
<rect x="339" y="516" width="3" height="3" fill="#8b0000"/>
<rect x="340" y="517" width="1" height="1" fill="#ff0000"/>
<rect x="344" y="497" width="1" height="20" fill="#8b0000"/>
<rect x="343" y="506" width="3" height="11" fill="#8b0000"/>
<rect x="344" y="507" width="1" height="9" fill="#ff0000"/>
<rect x="348" y="505" width="1" height="9" fill="#2f4f4f"/>
<rect x="347" y="507" width="3" height="3" fill="#2f4f4f"/>
<rect x="348" y="508" width="1" height="1" fill="#90ee90"/>
<rect x="352" y="509" width="1" height="6" fill="#2f4f4f"/>
<rect x="351" y="511" width="3" height="2" fill="#2f4f4f"/>
<rect x="356" y="506" width="1" height="7" fill="#8b0000"/>
<rect x="355" y="506" width="3" height="7" fill="#8b0000"/>
<rect x="356" y="507" width="1" height="5" fill="#ff0000"/>
<rect x="360" y="498" width="1" height="10" fill="#8b0000"/>
<rect x="359" y="498" width="3" height="9" fill="#8b0000"/>
<rect x="360" y="499" width="1" height="7" fill="#ff0000"/>
<rect x="364" y="487" width="1" height="14" fill="#8b0000"/>
<rect x="363" y="496" width="3" height="4" fill="#8b0000"/>
<rect x="364" y="497" width="1" height="2" fill="#ff0000"/>
<rect x="368" y="494" width="1" height="9" fill="#8b0000"/>
<rect x="367" y="495" width="3" height="2" fill="#8b0000"/>
<rect x="372" y="490" width="1" height="8" fill="#8b0000"/>
<rect x="371" y="492" width="3" height="5" fill="#8b0000"/>
<rect x="372" y="493" width="1" height="3" fill="#ff0000"/>
<rect x="376" y="421" width="1" height="55" fill="#2f4f4f"/>
<rect x="375" y="421" width="3" height="47" fill="#2f4f4f"/>
<rect x="376" y="422" width="1" height="45" fill="#90ee90"/>
<rect x="380" y="446" width="1" height="24" fill="#8b0000"/>
<rect x="379" y="449" width="3" height="20" fill="#8b0000"/>
<rect x="380" y="450" width="1" height="18" fill="#ff0000"/>
<rect x="384" y="436" width="1" height="21" fill="#8b0000"/>
<rect x="383" y="449" width="3" height="3" fill="#8b0000"/>
<rect x="384" y="450" width="1" height="1" fill="#ff0000"/>
<rect x="388" y="440" width="1" height="22" fill="#2f4f4f"/>
<rect x="387" y="449" width="3" height="9" fill="#2f4f4f"/>
<rect x="388" y="450" width="1" height="7" fill="#90ee90"/>
<rect x="392" y="450" width="1" height="18" fill="#8b0000"/>
<rect x="391" y="457" width="3" height="2" fill="#8b0000"/>
<rect x="396" y="442" width="1" height="20" fill="#8b0000"/>
<rect x="395" y="455" width="3" height="5" fill="#8b0000"/>
<rect x="396" y="456" width="1" height="3" fill="#ff0000"/>
<rect x="400" y="443" width="1" height="22" fill="#8b0000"/>
<rect x="399" y="445" width="3" height="12" fill="#8b0000"/>
<rect x="400" y="446" width="1" height="10" fill="#ff0000"/>
<rect x="404" y="436" width="1" height="11" fill="#8b0000"/>
<rect x="403" y="439" width="3" height="8" fill="#8b0000"/>
<rect x="404" y="440" width="1" height="6" fill="#ff0000"/>
<rect x="408" y="402" width="1" height="39" fill="#8b0000"/>
<rect x="407" y="408" width="3" height="33" fill="#8b0000"/>
<rect x="408" y="409" width="1" height="31" fill="#ff0000"/>
<rect x="412" y="394" width="1" height="26" fill="#8b0000"/>
<rect x="411" y="406" width="3" height="4" fill="#8b0000"/>
<rect x="412" y="407" width="1" height="2" fill="#ff0000"/>
<rect x="416" y="397" width="1" height="37" fill="#2f4f4f"/>
<rect x="415" y="406" width="3" height="19" fill="#2f4f4f"/>
<rect x="416" y="407" width="1" height="17" fill="#90ee90"/>
<rect x="420" y="420" width="1" height="34" fill="#8b0000"/>
<rect x="419" y="423" width="3" height="2" fill="#8b0000"/>
<rect x="424" y="415" width="1" height="13" fill="#8b0000"/>
<rect x="423" y="421" width="3" height="6" fill="#8b0000"/>
<rect x="424" y="422" width="1" height="4" fill="#ff0000"/>
<rect x="428" y="405" width="1" height="20" fill="#8b0000"/>
<rect x="427" y="405" width="3" height="18" fill="#8b0000"/>
<rect x="428" y="406" width="1" height="16" fill="#ff0000"/>
<rect x="432" y="401" width="1" height="24" fill="#2f4f4f"/>
<rect x="431" y="405" width="3" height="15" fill="#2f4f4f"/>
<rect x="432" y="406" width="1" height="13" fill="#90ee90"/>
<rect x="436" y="416" width="1" height="23" fill="#2f4f4f"/>
<rect x="435" y="419" width="3" height="9" fill="#2f4f4f"/>
<rect x="436" y="420" width="1" height="7" fill="#90ee90"/>
<rect x="440" y="419" width="1" height="16" fill="#8b0000"/>
<rect x="439" y="422" width="3" height="6" fill="#8b0000"/>
<rect x="440" y="423" width="1" height="4" fill="#ff0000"/>
<rect x="444" y="410" width="1" height="18" fill="#8b0000"/>
<rect x="443" y="411" width="3" height="12" fill="#8b0000"/>
<rect x="444" y="412" width="1" height="10" fill="#ff0000"/>
<rect x="448" y="400" width="1" height="19" fill="#8b0000"/>
<rect x="447" y="400" width="3" height="12" fill="#8b0000"/>
<rect x="448" y="401" width="1" height="10" fill="#ff0000"/>
<rect x="452" y="393" width="1" height="19" fill="#2f4f4f"/>
<rect x="451" y="400" width="3" height="8" fill="#2f4f4f"/>
<rect x="452" y="401" width="1" height="6" fill="#90ee90"/>
<rect x="456" y="397" width="1" height="27" fill="#2f4f4f"/>
<rect x="455" y="407" width="3" height="2" fill="#2f4f4f"/>
<rect x="460" y="391" width="1" height="20" fill="#8b0000"/>
<rect x="459" y="394" width="3" height="16" fill="#8b0000"/>
<rect x="460" y="395" width="1" height="14" fill="#ff0000"/>
<rect x="464" y="365" width="1" height="33" fill="#8b0000"/>
<rect x="463" y="368" width="3" height="27" fill="#8b0000"/>
<rect x="464" y="369" width="1" height="25" fill="#ff0000"/>
<rect x="468" y="356" width="1" height="34" fill="#2f4f4f"/>
<rect x="467" y="368" width="3" height="21" fill="#2f4f4f"/>
<rect x="468" y="369" width="1" height="19" fill="#90ee90"/>
<rect x="472" y="377" width="1" height="16" fill="#8b0000"/>
<rect x="471" y="380" width="3" height="6" fill="#8b0000"/>
<rect x="472" y="381" width="1" height="4" fill="#ff0000"/>
<rect x="476" y="367" width="1" height="15" fill="#8b0000"/>
<rect x="475" y="369" width="3" height="12" fill="#8b0000"/>
<rect x="476" y="370" width="1" height="10" fill="#ff0000"/>
<rect x="480" y="331" width="1" height="43" fill="#8b0000"/>
<rect x="479" y="339" width="3" height="32" fill="#8b0000"/>
<rect x="480" y="340" width="1" height="30" fill="#ff0000"/>
<rect x="484" y="288" width="1" height="54" fill="#8b0000"/>
<rect x="483" y="297" width="3" height="44" fill="#8b0000"/>
<rect x="484" y="298" width="1" height="42" fill="#ff0000"/>
<rect x="488" y="261" width="1" height="48" fill="#8b0000"/>
<rect x="487" y="270" width="3" height="28" fill="#8b0000"/>
<rect x="488" y="271" width="1" height="26" fill="#ff0000"/>
<rect x="492" y="268" width="1" height="17" fill="#2f4f4f"/>
<rect x="491" y="270" width="3" height="6" fill="#2f4f4f"/>
<rect x="492" y="271" width="1" height="4" fill="#90ee90"/>
<rect x="496" y="51" width="1" height="156" fill="#8b0000"/>
<rect x="495" y="56" width="3" height="149" fill="#8b0000"/>
<rect x="496" y="57" width="1" height="147" fill="#ff0000"/>
<rect x="500" y="16" width="1" height="152" fill="#2f4f4f"/>
<rect x="499" y="56" width="3" height="105" fill="#2f4f4f"/>
<rect x="500" y="57" width="1" height="103" fill="#90ee90"/>
<rect x="504" y="126" width="1" height="102" fill="#2f4f4f"/>
<rect x="503" y="160" width="3" height="26" fill="#2f4f4f"/>
<rect x="504" y="161" width="1" height="24" fill="#90ee90"/>
<rect x="508" y="158" width="1" height="63" fill="#2f4f4f"/>
<rect x="507" y="185" width="3" height="13" fill="#2f4f4f"/>
<rect x="508" y="186" width="1" height="11" fill="#90ee90"/>
<rect x="512" y="152" width="1" height="105" fill="#2f4f4f"/>
<rect x="511" y="197" width="3" height="44" fill="#2f4f4f"/>
<rect x="512" y="198" width="1" height="42" fill="#90ee90"/>
<rect x="516" y="234" width="1" height="132" fill="#2f4f4f"/>
<rect x="515" y="240" width="3" height="95" fill="#2f4f4f"/>
<rect x="516" y="241" width="1" height="93" fill="#90ee90"/>
<rect x="520" y="284" width="1" height="53" fill="#2f4f4f"/>
<rect x="519" y="324" width="3" height="8" fill="#2f4f4f"/>
<rect x="520" y="325" width="1" height="6" fill="#90ee90"/>
<rect x="524" y="279" width="1" height="56" fill="#8b0000"/>
<rect x="523" y="293" width="3" height="39" fill="#8b0000"/>
<rect x="524" y="294" width="1" height="37" fill="#ff0000"/>
<rect x="528" y="284" width="1" height="46" fill="#2f4f4f"/>
<rect x="527" y="294" width="3" height="20" fill="#2f4f4f"/>
<rect x="528" y="295" width="1" height="18" fill="#90ee90"/>
<rect x="532" y="279" width="1" height="40" fill="#8b0000"/>
<rect x="531" y="308" width="3" height="6" fill="#8b0000"/>
<rect x="532" y="309" width="1" height="4" fill="#ff0000"/>
<rect x="536" y="299" width="1" height="108" fill="#2f4f4f"/>
<rect x="535" y="308" width="3" height="67" fill="#2f4f4f"/>
<rect x="536" y="309" width="1" height="65" fill="#90ee90"/>
<rect x="540" y="305" width="1" height="76" fill="#8b0000"/>
<rect x="539" y="317" width="3" height="59" fill="#8b0000"/>
<rect x="540" y="318" width="1" height="57" fill="#ff0000"/>
<rect x="544" y="298" width="1" height="63" fill="#2f4f4f"/>
<rect x="543" y="314" width="3" height="35" fill="#2f4f4f"/>
<rect x="544" y="315" width="1" height="33" fill="#90ee90"/>
<rect x="548" y="331" width="1" height="25" fill="#8b0000"/>
<rect x="547" y="339" width="3" height="10" fill="#8b0000"/>
<rect x="548" y="340" width="1" height="8" fill="#ff0000"/>
<rect x="552" y="295" width="1" height="53" fill="#8b0000"/>
<rect x="551" y="297" width="3" height="43" fill="#8b0000"/>
<rect x="552" y="298" width="1" height="41" fill="#ff0000"/>
<rect x="556" y="293" width="1" height="52" fill="#2f4f4f"/>
<rect x="555" y="297" width="3" height="43" fill="#2f4f4f"/>
<rect x="556" y="298" width="1" height="41" fill="#90ee90"/>
<rect x="560" y="297" width="1" height="63" fill="#8b0000"/>
<rect x="559" y="305" width="3" height="35" fill="#8b0000"/>
<rect x="560" y="306" width="1" height="33" fill="#ff0000"/>
<rect x="564" y="298" width="1" height="16" fill="#8b0000"/>
<rect x="563" y="300" width="3" height="6" fill="#8b0000"/>
<rect x="564" y="301" width="1" height="4" fill="#ff0000"/>
<rect x="568" y="245" width="1" height="54" fill="#8b0000"/>
<rect x="567" y="255" width="3" height="40" fill="#8b0000"/>
<rect x="568" y="256" width="1" height="38" fill="#ff0000"/>
<rect x="572" y="231" width="1" height="35" fill="#2f4f4f"/>
<rect x="571" y="255" width="3" height="4" fill="#2f4f4f"/>
<rect x="572" y="256" width="1" height="2" fill="#90ee90"/>
<rect x="576" y="251" width="1" height="33" fill="#2f4f4f"/>
<rect x="575" y="257" width="3" height="18" fill="#2f4f4f"/>
<rect x="576" y="258" width="1" height="16" fill="#90ee90"/>
<rect x="580" y="238" width="1" height="41" fill="#8b0000"/>
<rect x="579" y="241" width="3" height="35" fill="#8b0000"/>
<rect x="580" y="242" width="1" height="33" fill="#ff0000"/>
<rect x="584" y="219" width="1" height="40" fill="#2f4f4f"/>
<rect x="583" y="241" width="3" height="5" fill="#2f4f4f"/>
<rect x="584" y="242" width="1" height="3" fill="#90ee90"/>
<rect x="588" y="222" width="1" height="29" fill="#8b0000"/>
<rect x="587" y="227" width="3" height="19" fill="#8b0000"/>
<rect x="588" y="228" width="1" height="17" fill="#ff0000"/>
<rect x="592" y="211" width="1" height="33" fill="#2f4f4f"/>
<rect x="591" y="223" width="3" height="11" fill="#2f4f4f"/>
<rect x="592" y="224" width="1" height="9" fill="#90ee90"/>
<rect x="596" y="225" width="1" height="17" fill="#2f4f4f"/>
<rect x="595" y="233" width="3" height="7" fill="#2f4f4f"/>
<rect x="596" y="234" width="1" height="5" fill="#90ee90"/>
<rect x="600" y="213" width="1" height="33" fill="#8b0000"/>
<rect x="599" y="232" width="3" height="8" fill="#8b0000"/>
<rect x="600" y="233" width="1" height="6" fill="#ff0000"/>
<rect x="604" y="231" width="1" height="36" fill="#2f4f4f"/>
<rect x="603" y="232" width="3" height="13" fill="#2f4f4f"/>
<rect x="604" y="233" width="1" height="11" fill="#90ee90"/>
<rect x="608" y="210" width="1" height="39" fill="#8b0000"/>
<rect x="607" y="211" width="3" height="35" fill="#8b0000"/>
<rect x="608" y="212" width="1" height="33" fill="#ff0000"/>
<rect x="612" y="200" width="1" height="25" fill="#8b0000"/>
<rect x="611" y="201" width="3" height="12" fill="#8b0000"/>
<rect x="612" y="202" width="1" height="10" fill="#ff0000"/>
<rect x="616" y="172" width="1" height="52" fill="#2f4f4f"/>
<rect x="615" y="173" width="3" height="36" fill="#2f4f4f"/>
<rect x="616" y="174" width="1" height="34" fill="#90ee90"/>
<rect x="620" y="196" width="1" height="16" fill="#2f4f4f"/>
<rect x="619" y="207" width="3" height="1" fill="#2f4f4f"/>
<rect x="624" y="185" width="1" height="27" fill="#8b0000"/>
<rect x="623" y="203" width="3" height="6" fill="#8b0000"/>
<rect x="624" y="204" width="1" height="4" fill="#ff0000"/>
<rect x="628" y="200" width="1" height="60" fill="#2f4f4f"/>
<rect x="627" y="202" width="3" height="53" fill="#2f4f4f"/>
<rect x="628" y="203" width="1" height="51" fill="#90ee90"/>
<rect x="632" y="226" width="1" height="32" fill="#8b0000"/>
<rect x="631" y="247" width="3" height="10" fill="#8b0000"/>
<rect x="632" y="248" width="1" height="8" fill="#ff0000"/>
<rect x="636" y="242" width="1" height="17" fill="#2f4f4f"/>
<rect x="635" y="247" width="3" height="1" fill="#2f4f4f"/>
<rect x="640" y="227" width="1" height="24" fill="#8b0000"/>
<rect x="639" y="232" width="3" height="15" fill="#8b0000"/>
<rect x="640" y="233" width="1" height="13" fill="#ff0000"/>
<rect x="644" y="212" width="1" height="26" fill="#8b0000"/>
<rect x="643" y="214" width="3" height="19" fill="#8b0000"/>
<rect x="644" y="215" width="1" height="17" fill="#ff0000"/>
<rect x="648" y="208" width="1" height="27" fill="#2f4f4f"/>
<rect x="647" y="214" width="3" height="18" fill="#2f4f4f"/>
<rect x="648" y="215" width="1" height="16" fill="#90ee90"/>
<rect x="652" y="222" width="1" height="28" fill="#2f4f4f"/>
<rect x="651" y="231" width="3" height="8" fill="#2f4f4f"/>
<rect x="652" y="232" width="1" height="6" fill="#90ee90"/>
<rect x="656" y="230" width="1" height="21" fill="#8b0000"/>
<rect x="655" y="232" width="3" height="7" fill="#8b0000"/>
<rect x="656" y="233" width="1" height="5" fill="#ff0000"/>
<rect x="660" y="227" width="1" height="10" fill="#8b0000"/>
<rect x="659" y="230" width="3" height="3" fill="#8b0000"/>
<rect x="660" y="231" width="1" height="1" fill="#ff0000"/>
<rect x="664" y="227" width="1" height="19" fill="#2f4f4f"/>
<rect x="663" y="232" width="3" height="9" fill="#2f4f4f"/>
<rect x="664" y="233" width="1" height="7" fill="#90ee90"/>
<rect x="668" y="237" width="1" height="25" fill="#2f4f4f"/>
<rect x="667" y="240" width="3" height="22" fill="#2f4f4f"/>
<rect x="668" y="241" width="1" height="20" fill="#90ee90"/>
<rect x="672" y="237" width="1" height="30" fill="#8b0000"/>
<rect x="671" y="239" width="3" height="23" fill="#8b0000"/>
<rect x="672" y="240" width="1" height="21" fill="#ff0000"/>
<rect x="676" y="203" width="1" height="40" fill="#8b0000"/>
<rect x="675" y="205" width="3" height="36" fill="#8b0000"/>
<rect x="676" y="206" width="1" height="34" fill="#ff0000"/>
<rect x="680" y="200" width="1" height="35" fill="#2f4f4f"/>
<rect x="679" y="206" width="3" height="27" fill="#2f4f4f"/>
<rect x="680" y="207" width="1" height="25" fill="#90ee90"/>
<rect x="684" y="189" width="1" height="51" fill="#8b0000"/>
<rect x="683" y="198" width="3" height="35" fill="#8b0000"/>
<rect x="684" y="199" width="1" height="33" fill="#ff0000"/>
<rect x="688" y="196" width="1" height="16" fill="#2f4f4f"/>
<rect x="687" y="205" width="3" height="1" fill="#2f4f4f"/>
<rect x="692" y="203" width="1" height="24" fill="#2f4f4f"/>
<rect x="691" y="205" width="3" height="15" fill="#2f4f4f"/>
<rect x="692" y="206" width="1" height="13" fill="#90ee90"/>
<rect x="696" y="197" width="1" height="42" fill="#2f4f4f"/>
<rect x="695" y="219" width="3" height="13" fill="#2f4f4f"/>
<rect x="696" y="220" width="1" height="11" fill="#90ee90"/>
<rect x="700" y="208" width="1" height="27" fill="#8b0000"/>
<rect x="699" y="223" width="3" height="9" fill="#8b0000"/>
<rect x="700" y="224" width="1" height="7" fill="#ff0000"/>
<rect x="704" y="183" width="1" height="49" fill="#2f4f4f"/>
<rect x="703" y="223" width="3" height="4" fill="#2f4f4f"/>
<rect x="704" y="224" width="1" height="2" fill="#90ee90"/>
<rect x="708" y="222" width="1" height="39" fill="#2f4f4f"/>
<rect x="707" y="225" width="3" height="12" fill="#2f4f4f"/>
<rect x="708" y="226" width="1" height="10" fill="#90ee90"/>
<rect x="712" y="235" width="1" height="23" fill="#2f4f4f"/>
<rect x="711" y="238" width="3" height="14" fill="#2f4f4f"/>
<rect x="712" y="239" width="1" height="12" fill="#90ee90"/>
<rect x="716" y="240" width="1" height="14" fill="#8b0000"/>
<rect x="715" y="247" width="3" height="6" fill="#8b0000"/>
<rect x="716" y="248" width="1" height="4" fill="#ff0000"/>
<rect x="720" y="222" width="1" height="27" fill="#8b0000"/>
<rect x="719" y="225" width="3" height="24" fill="#8b0000"/>
<rect x="720" y="226" width="1" height="22" fill="#ff0000"/>
<rect x="724" y="221" width="1" height="24" fill="#8b0000"/>
<rect x="723" y="223" width="3" height="3" fill="#8b0000"/>
<rect x="724" y="224" width="1" height="1" fill="#ff0000"/>
<rect x="728" y="201" width="1" height="31" fill="#8b0000"/>
<rect x="727" y="206" width="3" height="19" fill="#8b0000"/>
<rect x="728" y="207" width="1" height="17" fill="#ff0000"/>
<rect x="732" y="198" width="1" height="18" fill="#8b0000"/>
<rect x="731" y="205" width="3" height="2" fill="#8b0000"/>
<rect x="736" y="185" width="1" height="31" fill="#2f4f4f"/>
<rect x="735" y="188" width="3" height="14" fill="#2f4f4f"/>
<rect x="736" y="189" width="1" height="12" fill="#90ee90"/>
<rect x="740" y="194" width="1" height="13" fill="#2f4f4f"/>
<rect x="739" y="200" width="3" height="2" fill="#2f4f4f"/>
<rect x="744" y="173" width="1" height="31" fill="#8b0000"/>
<rect x="743" y="198" width="3" height="5" fill="#8b0000"/>
<rect x="744" y="199" width="1" height="3" fill="#ff0000"/>
<rect x="748" y="193" width="1" height="139" fill="#2f4f4f"/>
<rect x="747" y="198" width="3" height="90" fill="#2f4f4f"/>
<rect x="748" y="199" width="1" height="88" fill="#90ee90"/>
<rect x="752" y="262" width="1" height="60" fill="#2f4f4f"/>
<rect x="751" y="287" width="3" height="6" fill="#2f4f4f"/>
<rect x="752" y="288" width="1" height="4" fill="#90ee90"/>
<rect x="756" y="284" width="1" height="27" fill="#8b0000"/>
<rect x="755" y="290" width="3" height="3" fill="#8b0000"/>
<rect x="756" y="291" width="1" height="1" fill="#ff0000"/>
<rect x="760" y="263" width="1" height="32" fill="#8b0000"/>
<rect x="759" y="265" width="3" height="28" fill="#8b0000"/>
<rect x="760" y="266" width="1" height="26" fill="#ff0000"/>
<rect x="764" y="258" width="1" height="15" fill="#8b0000"/>
<rect x="763" y="265" width="3" height="2" fill="#8b0000"/>
<rect x="768" y="263" width="1" height="26" fill="#2f4f4f"/>
<rect x="767" y="265" width="3" height="12" fill="#2f4f4f"/>
<rect x="768" y="266" width="1" height="10" fill="#90ee90"/>
<rect x="772" y="256" width="1" height="29" fill="#8b0000"/>
<rect x="771" y="260" width="3" height="17" fill="#8b0000"/>
<rect x="772" y="261" width="1" height="15" fill="#ff0000"/>
<rect x="776" y="249" width="1" height="27" fill="#2f4f4f"/>
<rect x="775" y="261" width="3" height="3" fill="#2f4f4f"/>
<rect x="776" y="262" width="1" height="1" fill="#90ee90"/>
<rect x="780" y="256" width="1" height="58" fill="#2f4f4f"/>
<rect x="779" y="263" width="3" height="35" fill="#2f4f4f"/>
<rect x="780" y="264" width="1" height="33" fill="#90ee90"/>
<rect x="784" y="285" width="1" height="26" fill="#2f4f4f"/>
<rect x="783" y="293" width="3" height="10" fill="#2f4f4f"/>
<rect x="784" y="294" width="1" height="8" fill="#90ee90"/>
<rect x="788" y="285" width="1" height="21" fill="#8b0000"/>
<rect x="787" y="287" width="3" height="17" fill="#8b0000"/>
<rect x="788" y="288" width="1" height="15" fill="#ff0000"/>
<rect x="792" y="284" width="1" height="29" fill="#2f4f4f"/>
<rect x="791" y="287" width="3" height="14" fill="#2f4f4f"/>
<rect x="792" y="288" width="1" height="12" fill="#90ee90"/>
<rect x="796" y="285" width="1" height="29" fill="#8b0000"/>
<rect x="795" y="291" width="3" height="12" fill="#8b0000"/>
<rect x="796" y="292" width="1" height="10" fill="#ff0000"/>
<rect x="800" y="271" width="1" height="26" fill="#8b0000"/>
<rect x="799" y="277" width="3" height="16" fill="#8b0000"/>
<rect x="800" y="278" width="1" height="14" fill="#ff0000"/>
<rect x="804" y="266" width="1" height="16" fill="#8b0000"/>
<rect x="803" y="267" width="3" height="11" fill="#8b0000"/>
<rect x="804" y="268" width="1" height="9" fill="#ff0000"/>
<rect x="808" y="266" width="1" height="9" fill="#2f4f4f"/>
<rect x="807" y="267" width="3" height="2" fill="#2f4f4f"/>
<rect x="812" y="256" width="1" height="16" fill="#8b0000"/>
<rect x="811" y="258" width="3" height="11" fill="#8b0000"/>
<rect x="812" y="259" width="1" height="9" fill="#ff0000"/>
<rect x="816" y="242" width="1" height="19" fill="#8b0000"/>
<rect x="815" y="248" width="3" height="11" fill="#8b0000"/>
<rect x="816" y="249" width="1" height="9" fill="#ff0000"/>
<rect x="820" y="235" width="1" height="22" fill="#2f4f4f"/>
<rect x="819" y="248" width="3" height="8" fill="#2f4f4f"/>
<rect x="820" y="249" width="1" height="6" fill="#90ee90"/>
<rect x="824" y="230" width="1" height="29" fill="#8b0000"/>
<rect x="823" y="232" width="3" height="24" fill="#8b0000"/>
<rect x="824" y="233" width="1" height="22" fill="#ff0000"/>
<rect x="828" y="231" width="1" height="54" fill="#2f4f4f"/>
<rect x="827" y="232" width="3" height="14" fill="#2f4f4f"/>
<rect x="828" y="233" width="1" height="12" fill="#90ee90"/>
<rect x="832" y="242" width="1" height="15" fill="#2f4f4f"/>
<rect x="831" y="251" width="3" height="1" fill="#2f4f4f"/>
<rect x="836" y="242" width="1" height="21" fill="#8b0000"/>
<rect x="835" y="243" width="3" height="11" fill="#8b0000"/>
<rect x="836" y="244" width="1" height="9" fill="#ff0000"/>
<rect x="840" y="220" width="1" height="28" fill="#8b0000"/>
<rect x="839" y="224" width="3" height="21" fill="#8b0000"/>
<rect x="840" y="225" width="1" height="19" fill="#ff0000"/>
<rect x="844" y="207" width="1" height="21" fill="#8b0000"/>
<rect x="843" y="209" width="3" height="16" fill="#8b0000"/>
<rect x="844" y="210" width="1" height="14" fill="#ff0000"/>
<rect x="848" y="199" width="1" height="20" fill="#8b0000"/>
<rect x="847" y="201" width="3" height="10" fill="#8b0000"/>
<rect x="848" y="202" width="1" height="8" fill="#ff0000"/>
<rect x="852" y="178" width="1" height="26" fill="#8b0000"/>
<rect x="851" y="181" width="3" height="22" fill="#8b0000"/>
<rect x="852" y="182" width="1" height="20" fill="#ff0000"/>
<rect x="856" y="166" width="1" height="16" fill="#2f4f4f"/>
<rect x="855" y="169" width="3" height="3" fill="#2f4f4f"/>
<rect x="856" y="170" width="1" height="1" fill="#90ee90"/>
<rect x="860" y="162" width="1" height="26" fill="#2f4f4f"/>
<rect x="859" y="172" width="3" height="11" fill="#2f4f4f"/>
<rect x="860" y="173" width="1" height="9" fill="#90ee90"/>
<rect x="864" y="167" width="1" height="21" fill="#8b0000"/>
<rect x="863" y="175" width="3" height="8" fill="#8b0000"/>
<rect x="864" y="176" width="1" height="6" fill="#ff0000"/>
<rect x="868" y="164" width="1" height="32" fill="#8b0000"/>
<rect x="867" y="167" width="3" height="10" fill="#8b0000"/>
<rect x="868" y="168" width="1" height="8" fill="#ff0000"/>
<rect x="872" y="154" width="1" height="24" fill="#8b0000"/>
<rect x="871" y="159" width="3" height="10" fill="#8b0000"/>
<rect x="872" y="160" width="1" height="8" fill="#ff0000"/>
<rect x="876" y="140" width="1" height="29" fill="#8b0000"/>
<rect x="875" y="144" width="3" height="16" fill="#8b0000"/>
<rect x="876" y="145" width="1" height="14" fill="#ff0000"/>
<rect x="880" y="127" width="1" height="56" fill="#2f4f4f"/>
<rect x="879" y="143" width="3" height="32" fill="#2f4f4f"/>
<rect x="880" y="144" width="1" height="30" fill="#90ee90"/>
<rect x="884" y="158" width="1" height="20" fill="#8b0000"/>
<rect x="883" y="164" width="3" height="12" fill="#8b0000"/>
<rect x="884" y="165" width="1" height="10" fill="#ff0000"/>
<rect x="888" y="150" width="1" height="29" fill="#2f4f4f"/>
<rect x="887" y="168" width="3" height="1" fill="#2f4f4f"/>
<rect x="892" y="143" width="1" height="27" fill="#2f4f4f"/>
<rect x="891" y="151" width="3" height="18" fill="#2f4f4f"/>
<rect x="892" y="152" width="1" height="16" fill="#90ee90"/>
<rect x="896" y="143" width="1" height="36" fill="#2f4f4f"/>
<rect x="895" y="168" width="3" height="11" fill="#2f4f4f"/>
<rect x="896" y="169" width="1" height="9" fill="#90ee90"/>
<rect x="900" y="166" width="1" height="17" fill="#2f4f4f"/>
<rect x="899" y="168" width="3" height="7" fill="#2f4f4f"/>
<rect x="900" y="169" width="1" height="5" fill="#90ee90"/>
<rect x="904" y="161" width="1" height="17" fill="#8b0000"/>
<rect x="903" y="163" width="3" height="12" fill="#8b0000"/>
<rect x="904" y="164" width="1" height="10" fill="#ff0000"/>
<rect x="908" y="159" width="1" height="23" fill="#2f4f4f"/>
<rect x="907" y="164" width="3" height="15" fill="#2f4f4f"/>
<rect x="908" y="165" width="1" height="13" fill="#90ee90"/>
<rect x="912" y="177" width="1" height="45" fill="#2f4f4f"/>
<rect x="911" y="178" width="3" height="13" fill="#2f4f4f"/>
<rect x="912" y="179" width="1" height="11" fill="#90ee90"/>
<rect x="916" y="181" width="1" height="30" fill="#2f4f4f"/>
<rect x="915" y="190" width="3" height="11" fill="#2f4f4f"/>
<rect x="916" y="191" width="1" height="9" fill="#90ee90"/>
<rect x="920" y="182" width="1" height="25" fill="#8b0000"/>
<rect x="919" y="196" width="3" height="5" fill="#8b0000"/>
<rect x="920" y="197" width="1" height="3" fill="#ff0000"/>
<rect x="924" y="186" width="1" height="16" fill="#2f4f4f"/>
<rect x="923" y="194" width="3" height="1" fill="#2f4f4f"/>
<rect x="928" y="149" width="1" height="65" fill="#8b0000"/>
<rect x="927" y="152" width="3" height="52" fill="#8b0000"/>
<rect x="928" y="153" width="1" height="50" fill="#ff0000"/>
<rect x="932" y="134" width="1" height="25" fill="#8b0000"/>
<rect x="931" y="135" width="3" height="19" fill="#8b0000"/>
<rect x="932" y="136" width="1" height="17" fill="#ff0000"/>
<rect x="936" y="117" width="1" height="24" fill="#8b0000"/>
<rect x="935" y="121" width="3" height="15" fill="#8b0000"/>
<rect x="936" y="122" width="1" height="13" fill="#ff0000"/>
<rect x="940" y="62" width="1" height="68" fill="#8b0000"/>
<rect x="939" y="90" width="3" height="32" fill="#8b0000"/>
<rect x="940" y="91" width="1" height="30" fill="#ff0000"/>
<rect x="944" y="79" width="1" height="51" fill="#8b0000"/>
<rect x="943" y="83" width="3" height="8" fill="#8b0000"/>
<rect x="944" y="84" width="1" height="6" fill="#ff0000"/>
<rect x="948" y="79" width="1" height="15" fill="#8b0000"/>
<rect x="947" y="81" width="3" height="4" fill="#8b0000"/>
<rect x="948" y="82" width="1" height="2" fill="#ff0000"/>
<rect x="952" y="50" width="1" height="41" fill="#2f4f4f"/>
<rect x="951" y="74" width="3" height="11" fill="#2f4f4f"/>
<rect x="952" y="75" width="1" height="9" fill="#90ee90"/>
<rect x="956" y="78" width="1" height="28" fill="#2f4f4f"/>
<rect x="955" y="83" width="3" height="2" fill="#2f4f4f"/>
<rect x="960" y="79" width="1" height="16" fill="#2f4f4f"/>
<rect x="959" y="83" width="3" height="5" fill="#2f4f4f"/>
<rect x="960" y="84" width="1" height="3" fill="#90ee90"/>
<rect x="964" y="71" width="1" height="34" fill="#8b0000"/>
<rect x="963" y="78" width="3" height="10" fill="#8b0000"/>
<rect x="964" y="79" width="1" height="8" fill="#ff0000"/>
<rect x="968" y="60" width="1" height="39" fill="#8b0000"/>
<rect x="967" y="61" width="3" height="18" fill="#8b0000"/>
<rect x="968" y="62" width="1" height="16" fill="#ff0000"/>
<rect x="972" y="55" width="1" height="30" fill="#8b0000"/>
<rect x="971" y="60" width="3" height="7" fill="#8b0000"/>
<rect x="972" y="61" width="1" height="5" fill="#ff0000"/>
<rect x="976" y="58" width="1" height="23" fill="#8b0000"/>
<rect x="975" y="63" width="3" height="15" fill="#8b0000"/>
<rect x="976" y="64" width="1" height="13" fill="#ff0000"/>
<rect x="980" y="40" width="1" height="21" fill="#2f4f4f"/>
<rect x="979" y="50" width="3" height="1" fill="#2f4f4f"/>
<rect x="984" y="61" width="1" height="28" fill="#2f4f4f"/>
<rect x="983" y="63" width="3" height="14" fill="#2f4f4f"/>
<rect x="984" y="64" width="1" height="12" fill="#90ee90"/>
<rect x="988" y="40" width="1" height="45" fill="#8b0000"/>
<rect x="987" y="43" width="3" height="36" fill="#8b0000"/>
<rect x="988" y="44" width="1" height="34" fill="#ff0000"/>
<rect x="992" y="30" width="1" height="37" fill="#2f4f4f"/>
<rect x="991" y="43" width="3" height="22" fill="#2f4f4f"/>
<rect x="992" y="44" width="1" height="20" fill="#90ee90"/>
<rect x="996" y="49" width="1" height="59" fill="#2f4f4f"/>
<rect x="995" y="64" width="3" height="27" fill="#2f4f4f"/>
<rect x="996" y="65" width="1" height="25" fill="#90ee90"/>
<rect x="1000" y="88" width="1" height="187" fill="#2f4f4f"/>
<rect x="999" y="90" width="3" height="132" fill="#2f4f4f"/>
<rect x="1000" y="91" width="1" height="130" fill="#90ee90"/>
<rect x="1004" y="215" width="1" height="48" fill="#2f4f4f"/>
<rect x="1003" y="221" width="3" height="25" fill="#2f4f4f"/>
<rect x="1004" y="222" width="1" height="23" fill="#90ee90"/>
<rect x="1008" y="232" width="1" height="27" fill="#8b0000"/>
<rect x="1007" y="238" width="3" height="8" fill="#8b0000"/>
<rect x="1008" y="239" width="1" height="6" fill="#ff0000"/>
<rect x="1012" y="231" width="1" height="36" fill="#2f4f4f"/>
<rect x="1011" y="240" width="3" height="4" fill="#2f4f4f"/>
<rect x="1012" y="241" width="1" height="2" fill="#90ee90"/>
<rect x="1016" y="224" width="1" height="38" fill="#8b0000"/>
<rect x="1015" y="234" width="3" height="20" fill="#8b0000"/>
<rect x="1016" y="235" width="1" height="18" fill="#ff0000"/>
<rect x="1020" y="219" width="1" height="32" fill="#8b0000"/>
<rect x="1019" y="221" width="3" height="15" fill="#8b0000"/>
<rect x="1020" y="222" width="1" height="13" fill="#ff0000"/>
<rect x="1024" y="206" width="1" height="22" fill="#8b0000"/>
<rect x="1023" y="219" width="3" height="4" fill="#8b0000"/>
<rect x="1024" y="220" width="1" height="2" fill="#ff0000"/>
<rect x="1028" y="209" width="1" height="16" fill="#8b0000"/>
<rect x="1027" y="216" width="3" height="6" fill="#8b0000"/>
<rect x="1028" y="217" width="1" height="4" fill="#ff0000"/>
<rect x="1032" y="209" width="1" height="10" fill="#8b0000"/>
<rect x="1031" y="213" width="3" height="4" fill="#8b0000"/>
<rect x="1032" y="214" width="1" height="2" fill="#ff0000"/>
<rect x="1036" y="185" width="1" height="30" fill="#8b0000"/>
<rect x="1035" y="185" width="3" height="30" fill="#8b0000"/>
<rect x="1036" y="186" width="1" height="28" fill="#ff0000"/>
<rect x="1040" y="167" width="1" height="69" fill="#2f4f4f"/>
<rect x="1039" y="185" width="3" height="40" fill="#2f4f4f"/>
<rect x="1040" y="186" width="1" height="38" fill="#90ee90"/>
<rect x="1044" y="196" width="1" height="34" fill="#8b0000"/>
<rect x="1043" y="209" width="3" height="16" fill="#8b0000"/>
<rect x="1044" y="210" width="1" height="14" fill="#ff0000"/>
<rect x="1048" y="198" width="1" height="14" fill="#8b0000"/>
<rect x="1047" y="205" width="3" height="4" fill="#8b0000"/>
<rect x="1048" y="206" width="1" height="2" fill="#ff0000"/>
<rect x="1052" y="202" width="1" height="13" fill="#8b0000"/>
<rect x="1051" y="203" width="3" height="3" fill="#8b0000"/>
<rect x="1052" y="204" width="1" height="1" fill="#ff0000"/>
<rect x="1056" y="188" width="1" height="21" fill="#2f4f4f"/>
<rect x="1055" y="206" width="3" height="2" fill="#2f4f4f"/>
<rect x="1060" y="201" width="1" height="20" fill="#2f4f4f"/>
<rect x="1059" y="206" width="3" height="2" fill="#2f4f4f"/>
<rect x="1064" y="196" width="1" height="23" fill="#2f4f4f"/>
<rect x="1063" y="206" width="3" height="5" fill="#2f4f4f"/>
<rect x="1064" y="207" width="1" height="3" fill="#90ee90"/>
<rect x="1068" y="208" width="1" height="25" fill="#2f4f4f"/>
<rect x="1067" y="210" width="3" height="23" fill="#2f4f4f"/>
<rect x="1068" y="211" width="1" height="21" fill="#90ee90"/>
<rect x="1072" y="141" width="1" height="37" fill="#8b0000"/>
<rect x="1071" y="153" width="3" height="24" fill="#8b0000"/>
<rect x="1072" y="154" width="1" height="22" fill="#ff0000"/>
<rect x="1076" y="146" width="1" height="9" fill="#8b0000"/>
<rect x="1075" y="147" width="3" height="8" fill="#8b0000"/>
<rect x="1076" y="148" width="1" height="6" fill="#ff0000"/>
</g>
<polygon points="748.6,331.4 867.4,150.5 872.4,153.7 878.0,127.0 856.2,143.3 861.2,146.5 747.4,330.6" fill="#fa5757"/>
<polygon points="879.1,127.4 897.5,205.4 891.4,207.0 907.5,228.6 910.7,201.9 904.7,203.5 881.9,126.6" fill="#fa5757"/>
<polygon points="914.7,226.3 981.3,61.0 986.8,63.0 986.0,36.0 967.5,55.7 972.9,57.8 913.3,225.7" fill="#fa5757"/>
<polygon points="997.1,33.0 1002.2,243.0 996.5,243.2 1007.5,267.8 1016.5,242.4 1010.7,242.6 998.5,33.0" fill="#fa5757"/>
<polygon points="1013.9,268.9 1107.4,132.0 1112.3,135.2 1118.2,108.0 1095.6,124.3 1100.5,127.5 1012.7,268.1" fill="#fa5757"/>
<g shape-rendering="crispEdges">
<rect x="0" y="613" width="1205" height="1" fill="#000"/>
<rect x="0" y="615" width="1205" height="1" fill="#000"/>
<rect x="0" y="775" width="1205" height="1" fill="#000"/>
<rect x="0" y="777" width="1205" height="1" fill="#000"/>
<rect x="0" y="847" width="1205" height="1" fill="#000"/>
<rect x="1204" y="0" width="1" height="848" fill="#000"/>
<rect x="0" y="614" width="1204" height="1" fill="#ececec"/>
<rect x="0" y="776" width="1204" height="1" fill="#ececec"/>
<rect x="0" y="640" width="1204" height="1" fill="#ff0000"/>
<rect x="0" y="751" width="1204" height="1" fill="#0000ff"/>
<line x1="0" y1="664.5" x2="1204" y2="664.5" stroke="#ff0000" stroke-dasharray="9 3 3 3 3 3" stroke-dashoffset="20"/>
<line x1="0" y1="727.5" x2="1204" y2="727.5" stroke="#0000ff" stroke-dasharray="9 3 3 3 3 3" stroke-dashoffset="20"/>
<line x1="0" y1="695.5" x2="1204" y2="695.5" stroke="#606060" stroke-dasharray="3 3" stroke-dashoffset="1"/>
<polyline points="0.5,688.8 4.5,697.6 8.5,689.6 12.5,692.8 16.5,698.5 20.5,698.5 24.5,695.6 28.5,692.0 32.5,685.6 36.5,686.4 40.5,688.0 44.5,687.2 48.5,685.9 52.5,685.3 56.5,688.8 60.5,689.1 64.5,686.4 68.5,685.6 72.5,682.4 76.5,677.5 80.5,682.4 84.5,685.3 88.5,683.6 92.5,684.3 96.5,688.0 100.5,692.8 104.5,703.3 108.5,709.4 112.5,708.4 116.5,709.4 120.5,707.3 124.5,708.9 128.5,707.3 132.5,708.4 136.5,705.7 140.5,705.7 144.5,706.8 148.5,700.9 152.5,696.0 156.5,693.6 160.5,694.4 164.5,697.2 168.5,699.3 172.5,700.9 176.5,711.0 180.5,711.3 184.5,712.1 188.5,708.9 192.5,704.1 196.5,692.8 200.5,679.9 204.5,675.1 208.5,675.9 212.5,673.5 216.5,670.3 220.5,667.9 224.5,668.7 228.5,666.3 232.5,664.7 236.5,663.4 240.5,670.3 244.5,673.0 248.5,672.4 252.5,671.4 256.5,681.6 260.5,682.7 264.5,680.8 268.5,674.3 272.5,672.7 276.5,678.3 280.5,677.5 284.5,674.3 288.5,679.1 292.5,677.5 296.5,684.8 300.5,687.2 304.5,685.6 308.5,685.6 312.5,690.4 316.5,691.7 320.5,696.5 324.5,695.2 328.5,694.9 332.5,696.0 336.5,704.1 340.5,713.7 344.5,692.8 348.5,696.0 352.5,698.8 356.5,695.2 360.5,688.8 364.5,680.8 368.5,685.6 372.5,681.6 376.5,655.8 380.5,664.7 384.5,660.6 388.5,665.5 392.5,671.9 396.5,669.2 400.5,671.1 404.5,665.9 408.5,659.5 412.5,655.0 416.5,663.4 420.5,674.3 424.5,671.1 428.5,668.7 432.5,667.9 436.5,676.7 440.5,677.5 444.5,674.3 448.5,670.8 452.5,669.2 456.5,673.5 460.5,670.3 464.5,663.9 468.5,662.2 472.5,669.2 476.5,666.6 480.5,661.4 484.5,654.2 488.5,650.2 492.5,647.8 496.5,635.7 500.5,634.1 504.5,660.6 508.5,663.9 512.5,667.1 516.5,685.6 520.5,688.0 524.5,687.2 528.5,688.0 532.5,686.4 536.5,696.0 540.5,694.9 544.5,692.3 548.5,695.2 552.5,691.7 556.5,691.2 560.5,692.8 564.5,688.0 568.5,683.2 572.5,679.9 576.5,684.0 580.5,682.0 584.5,679.5 588.5,678.8 592.5,677.9 596.5,679.1 600.5,678.3 604.5,683.6 608.5,679.9 612.5,676.7 616.5,675.1 620.5,676.2 624.5,675.6 628.5,684.0 632.5,686.9 636.5,688.8 640.5,686.4 644.5,684.0 648.5,683.6 652.5,686.9 656.5,688.0 660.5,686.4 664.5,688.5 668.5,692.0 672.5,692.8 676.5,685.6 680.5,683.2 684.5,683.2 688.5,679.9 692.5,683.2 696.5,684.8 700.5,687.2 704.5,683.2 708.5,692.8 712.5,695.6 716.5,695.6 720.5,692.8 724.5,691.2 728.5,686.9 732.5,684.3 736.5,682.4 740.5,682.0 744.5,679.9 748.5,701.7 752.5,708.9 756.5,710.5 760.5,705.7 764.5,701.7 768.5,704.1 772.5,701.7 776.5,699.7 780.5,704.9 784.5,708.1 788.5,707.8 792.5,708.4 796.5,708.4 800.5,704.9 804.5,699.7 808.5,698.1 812.5,696.0 816.5,692.3 820.5,691.2 824.5,690.4 828.5,695.6 832.5,692.3 836.5,693.3 840.5,686.9 844.5,682.4 848.5,679.9 852.5,675.6 856.5,670.3 860.5,672.7 864.5,673.5 868.5,674.6 872.5,671.4 876.5,668.7 880.5,669.2 884.5,675.1 888.5,674.3 892.5,672.4 896.5,678.3 900.5,681.1 904.5,679.1 908.5,679.9 912.5,691.7 916.5,690.7 920.5,690.7 924.5,690.4 928.5,685.6 932.5,675.1 936.5,669.5 940.5,663.9 944.5,667.9 948.5,664.7 952.5,661.8 956.5,670.3 960.5,672.4 964.5,670.3 968.5,668.2 972.5,666.6 976.5,665.0 980.5,663.1 984.5,671.1 988.5,670.3 992.5,667.1 996.5,675.9 1000.5,706.5 1004.5,713.7 1008.5,715.8 1012.5,717.8 1016.5,716.1 1020.5,714.2 1024.5,708.4 1028.5,708.4 1032.5,708.1 1036.5,704.6 1040.5,704.9 1044.5,707.3 1048.5,704.9 1052.5,705.7 1056.5,702.5 1060.5,705.7 1064.5,704.9 1068.5,707.3 1072.5,690.4 1076.5,688.5" fill="none" stroke="#ff0000" stroke-width="1" />
<polyline points="0.5,687.2 4.5,702.5 8.5,688.8 12.5,692.8 16.5,701.7 20.5,701.7 24.5,696.8 28.5,691.2 32.5,683.2 36.5,684.0 40.5,686.4 44.5,686.4 48.5,684.0 52.5,683.2 56.5,688.0 60.5,688.8 64.5,684.8 68.5,683.2 72.5,679.1 76.5,671.1 80.5,678.3 84.5,683.2 88.5,681.6 92.5,682.4 96.5,688.0 100.5,696.8 104.5,712.1 108.5,720.2 112.5,717.8 116.5,719.4 120.5,715.3 124.5,718.6 128.5,714.2 132.5,716.1 136.5,710.5 140.5,711.3 144.5,712.9 148.5,702.5 152.5,695.2 156.5,690.7 160.5,692.8 164.5,696.8 168.5,700.1 172.5,701.7 176.5,717.8 180.5,719.4 184.5,720.2 188.5,713.7 192.5,705.7 196.5,686.4 200.5,672.7 204.5,665.5 208.5,667.1 212.5,663.9 216.5,659.8 220.5,655.8 224.5,658.2 228.5,655.8 232.5,653.4 236.5,652.1 240.5,665.5 244.5,669.5 248.5,667.1 252.5,665.5 256.5,682.4 260.5,683.2 264.5,679.9 268.5,671.1 272.5,668.7 276.5,678.3 280.5,676.7 284.5,671.9 288.5,679.1 292.5,677.5 296.5,688.0 300.5,691.2 304.5,688.8 308.5,688.0 312.5,696.0 316.5,697.6 320.5,704.1 324.5,701.7 328.5,700.9 332.5,702.5 336.5,714.5 340.5,727.4 344.5,694.4 348.5,698.5 352.5,702.5 356.5,696.8 360.5,687.2 364.5,676.7 368.5,684.8 372.5,679.1 376.5,649.4 380.5,660.6 384.5,655.8 388.5,662.2 392.5,671.1 396.5,667.1 400.5,670.8 404.5,664.7 408.5,656.6 412.5,651.5 416.5,663.1 420.5,676.7 424.5,671.9 428.5,668.7 432.5,667.6 436.5,679.1 440.5,679.9 444.5,675.1 448.5,670.3 452.5,667.9 456.5,674.3 460.5,670.3 464.5,661.4 468.5,659.5 472.5,669.5 476.5,666.3 480.5,659.0 484.5,649.4 488.5,644.5 492.5,642.1 496.5,630.9 500.5,629.3 504.5,660.6 508.5,665.5 512.5,670.3 516.5,691.2 520.5,693.6 524.5,692.0 528.5,693.3 532.5,691.2 536.5,703.3 540.5,700.9 544.5,697.6 548.5,700.9 552.5,695.6 556.5,694.9 560.5,697.2 564.5,688.8 568.5,682.4 572.5,678.3 576.5,685.3 580.5,682.4 584.5,678.3 588.5,677.2 592.5,675.1 596.5,677.2 600.5,676.7 604.5,684.8 608.5,679.1 612.5,674.3 616.5,671.4 620.5,674.0 624.5,672.7 628.5,687.2 632.5,691.2 636.5,694.9 640.5,689.6 644.5,684.8 648.5,684.3 652.5,689.6 656.5,692.3 660.5,688.8 664.5,691.2 668.5,696.8 672.5,698.1 676.5,685.6 680.5,682.4 684.5,682.0 688.5,678.8 692.5,683.2 696.5,685.6 700.5,688.8 704.5,682.4 708.5,698.5 712.5,702.5 716.5,702.5 720.5,696.8 724.5,693.6 728.5,686.9 732.5,682.4 736.5,679.1 740.5,679.1 744.5,674.3 748.5,708.9 752.5,718.6 756.5,720.7 760.5,712.9 764.5,705.7 768.5,709.7 772.5,705.7 776.5,701.7 780.5,709.7 784.5,715.3 788.5,713.7 792.5,714.5 796.5,715.3 800.5,707.3 804.5,700.1 808.5,697.6 812.5,694.4 816.5,688.8 820.5,686.4 824.5,685.6 828.5,694.4 832.5,689.6 836.5,691.7 840.5,681.6 844.5,675.9 848.5,671.1 852.5,665.5 856.5,660.2 860.5,662.2 864.5,663.9 868.5,665.9 872.5,661.8 876.5,659.0 880.5,659.0 884.5,669.5 888.5,668.2 892.5,664.7 896.5,675.1 900.5,679.9 904.5,676.2 908.5,678.8 912.5,697.6 916.5,696.0 920.5,695.6 924.5,694.9 928.5,686.9 932.5,671.9 936.5,663.9 940.5,655.8 944.5,663.1 948.5,658.2 952.5,654.7 956.5,668.7 960.5,671.1 964.5,668.2 968.5,665.5 972.5,663.9 976.5,660.6 980.5,656.6 984.5,670.3 988.5,669.2 992.5,664.7 996.5,678.3 1000.5,717.0 1004.5,723.4 1008.5,726.1 1012.5,728.7 1016.5,726.1 1020.5,722.6 1024.5,715.3 1028.5,714.9 1032.5,714.2 1036.5,707.3 1040.5,707.8 1044.5,712.1 1048.5,707.8 1052.5,709.4 1056.5,703.3 1060.5,708.9 1064.5,707.3 1068.5,712.9 1072.5,685.6 1076.5,683.2" fill="none" stroke="#0000ff" stroke-width="1" />
<polyline points="0.5,683.2 4.5,713.7 8.5,686.4 12.5,693.6 16.5,708.9 20.5,710.5 24.5,700.1 28.5,687.2 32.5,672.7 36.5,673.5 40.5,680.8 44.5,678.3 48.5,675.1 52.5,674.3 56.5,687.2 60.5,690.4 64.5,678.3 68.5,675.9 72.5,667.9 76.5,650.2 80.5,667.9 84.5,682.4 88.5,678.3 92.5,679.9 96.5,693.6 100.5,712.9 104.5,733.8 108.5,744.3 112.5,737.9 116.5,740.3 120.5,730.6 124.5,736.3 128.5,724.2 132.5,728.2 136.5,713.7 140.5,715.3 144.5,721.0 148.5,698.5 152.5,679.9 156.5,671.1 160.5,677.5 164.5,689.6 168.5,698.5 172.5,701.7 176.5,733.8 180.5,735.1 184.5,736.3 188.5,724.2 192.5,705.7 196.5,666.3 200.5,651.8 204.5,645.4 208.5,649.4 212.5,646.2 216.5,640.5 220.5,637.0 224.5,641.3 228.5,638.1 232.5,635.7 236.5,634.1 240.5,663.9 244.5,671.1 248.5,667.1 252.5,664.7 256.5,700.9 260.5,698.5 264.5,688.8 268.5,669.5 272.5,665.5 276.5,686.4 280.5,679.9 284.5,670.3 288.5,685.6 292.5,679.9 296.5,702.5 300.5,707.3 304.5,700.9 308.5,699.3 312.5,714.5 316.5,716.1 320.5,728.2 324.5,721.0 328.5,718.1 332.5,721.0 336.5,740.3 340.5,753.2 344.5,691.2 348.5,700.1 352.5,706.5 356.5,695.2 360.5,679.1 364.5,662.2 368.5,679.9 372.5,669.5 376.5,640.5 380.5,655.8 384.5,649.4 388.5,659.0 392.5,671.9 396.5,664.7 400.5,670.3 404.5,661.4 408.5,648.6 412.5,642.1 416.5,664.7 420.5,686.4 424.5,674.3 428.5,669.5 432.5,667.9 436.5,688.0 440.5,688.0 444.5,678.3 448.5,669.5 452.5,665.5 456.5,676.7 460.5,669.5 464.5,654.2 468.5,650.2 472.5,670.3 476.5,663.9 480.5,651.8 484.5,638.1 488.5,633.3 492.5,631.7 496.5,622.0 500.5,622.5 504.5,665.5 508.5,670.3 512.5,679.1 516.5,708.1 520.5,710.5 524.5,707.3 528.5,708.9 532.5,704.9 536.5,722.6 540.5,716.1 544.5,709.4 548.5,714.2 552.5,702.5 556.5,700.9 560.5,705.7 564.5,689.6 568.5,672.7 572.5,665.5 576.5,679.9 580.5,675.1 584.5,667.1 588.5,666.3 592.5,662.2 596.5,668.2 600.5,666.3 604.5,688.0 608.5,675.1 612.5,664.7 616.5,658.2 620.5,664.7 624.5,662.7 628.5,695.2 632.5,704.1 636.5,711.3 640.5,698.5 644.5,685.6 648.5,684.0 652.5,696.8 656.5,704.1 660.5,693.6 664.5,700.1 668.5,713.7 672.5,715.3 676.5,683.2 680.5,675.9 684.5,673.5 688.5,664.7 692.5,682.4 696.5,687.2 700.5,692.0 704.5,676.7 708.5,712.9 712.5,717.4 716.5,717.0 720.5,702.5 724.5,695.2 728.5,679.1 732.5,671.1 736.5,665.5 740.5,665.5 744.5,656.3 748.5,727.4 752.5,736.3 756.5,737.9 760.5,718.6 764.5,708.1 768.5,715.3 772.5,708.9 776.5,701.7 780.5,715.3 784.5,724.2 788.5,721.0 792.5,722.9 796.5,724.2 800.5,704.9 804.5,690.4 808.5,685.6 812.5,679.1 816.5,669.5 820.5,663.9 824.5,662.7 828.5,688.8 832.5,677.5 836.5,683.2 840.5,663.1 844.5,654.2 848.5,648.6 852.5,642.1 856.5,637.3 860.5,646.2 864.5,649.4 868.5,653.4 872.5,647.0 876.5,641.3 880.5,642.1 884.5,667.1 888.5,664.7 892.5,659.8 896.5,680.8 900.5,692.0 904.5,683.2 908.5,684.8 912.5,721.0 916.5,713.7 920.5,712.9 924.5,712.1 928.5,693.6 932.5,659.8 936.5,651.0 940.5,641.3 944.5,655.0 948.5,649.4 952.5,644.5 956.5,669.5 960.5,671.9 964.5,668.7 968.5,663.1 972.5,660.6 976.5,656.6 980.5,649.4 984.5,674.3 988.5,671.1 992.5,662.2 996.5,689.6 1000.5,740.3 1004.5,745.1 1008.5,747.5 1012.5,749.6 1016.5,744.3 1020.5,736.3 1024.5,721.8 1028.5,721.0 1032.5,719.0 1036.5,704.9 1040.5,706.5 1044.5,714.5 1048.5,705.7 1052.5,708.1 1056.5,695.2 1060.5,708.9 1064.5,704.9 1068.5,717.8 1072.5,664.7 1076.5,663.9" fill="none" stroke="#000000" stroke-width="1" />
<rect x="375" y="815" width="3" height="3" fill="#1e90ff"/>
<rect x="379" y="813" width="3" height="5" fill="#1e90ff"/>
<rect x="383" y="812" width="3" height="6" fill="#1e90ff"/>
<rect x="387" y="816" width="3" height="2" fill="#1e90ff"/>
<rect x="407" y="814" width="3" height="4" fill="#1e90ff"/>
<rect x="411" y="814" width="3" height="4" fill="#1e90ff"/>
<rect x="419" y="819" width="3" height="1" fill="#ffa07a"/>
<rect x="423" y="819" width="3" height="3" fill="#ffa07a"/>
<rect x="427" y="819" width="3" height="1" fill="#ffa07a"/>
<rect x="431" y="819" width="3" height="3" fill="#ffa07a"/>
<rect x="435" y="819" width="3" height="4" fill="#ffa07a"/>
<rect x="439" y="819" width="3" height="4" fill="#ffa07a"/>
<rect x="443" y="819" width="3" height="2" fill="#ffa07a"/>
<rect x="447" y="819" width="3" height="1" fill="#ffa07a"/>
<rect x="463" y="814" width="3" height="4" fill="#1e90ff"/>
<rect x="479" y="814" width="3" height="4" fill="#1e90ff"/>
<rect x="483" y="810" width="3" height="8" fill="#1e90ff"/>
<rect x="487" y="808" width="3" height="10" fill="#1e90ff"/>
<rect x="491" y="811" width="3" height="7" fill="#1e90ff"/>
<rect x="495" y="789" width="3" height="29" fill="#1e90ff"/>
<rect x="499" y="803" width="3" height="15" fill="#1e90ff"/>
<rect x="503" y="815" width="3" height="3" fill="#1e90ff"/>
<rect x="507" y="819" width="3" height="5" fill="#ffa07a"/>
<rect x="511" y="819" width="3" height="14" fill="#ffa07a"/>
<rect x="515" y="819" width="3" height="26" fill="#ffa07a"/>
<rect x="519" y="819" width="3" height="25" fill="#ffa07a"/>
<rect x="523" y="819" width="3" height="15" fill="#ffa07a"/>
<rect x="527" y="819" width="3" height="11" fill="#ffa07a"/>
<rect x="531" y="819" width="3" height="7" fill="#ffa07a"/>
<rect x="535" y="819" width="3" height="13" fill="#ffa07a"/>
<rect x="539" y="819" width="3" height="5" fill="#ffa07a"/>
<rect x="543" y="819" width="3" height="3" fill="#ffa07a"/>
<rect x="547" y="819" width="3" height="1" fill="#ffa07a"/>
<rect x="551" y="813" width="3" height="5" fill="#1e90ff"/>
<rect x="555" y="817" width="3" height="1" fill="#1e90ff"/>
<rect x="559" y="813" width="3" height="5" fill="#1e90ff"/>
<rect x="563" y="813" width="3" height="5" fill="#1e90ff"/>
<rect x="567" y="808" width="3" height="10" fill="#1e90ff"/>
<rect x="571" y="809" width="3" height="9" fill="#1e90ff"/>
<rect x="575" y="813" width="3" height="5" fill="#1e90ff"/>
<rect x="579" y="813" width="3" height="5" fill="#1e90ff"/>
<rect x="583" y="814" width="3" height="4" fill="#1e90ff"/>
<rect x="587" y="814" width="3" height="4" fill="#1e90ff"/>
<rect x="591" y="816" width="3" height="2" fill="#1e90ff"/>
<rect x="599" y="819" width="3" height="1" fill="#ffa07a"/>
<rect x="603" y="819" width="3" height="3" fill="#ffa07a"/>
<rect x="611" y="817" width="3" height="1" fill="#1e90ff"/>
<rect x="623" y="819" width="3" height="1" fill="#ffa07a"/>
<rect x="627" y="819" width="3" height="8" fill="#ffa07a"/>
<rect x="631" y="819" width="3" height="8" fill="#ffa07a"/>
<rect x="635" y="819" width="3" height="6" fill="#ffa07a"/>
<rect x="639" y="819" width="3" height="3" fill="#ffa07a"/>
<rect x="675" y="814" width="3" height="4" fill="#1e90ff"/>
<rect x="679" y="816" width="3" height="2" fill="#1e90ff"/>
<rect x="683" y="817" width="3" height="1" fill="#1e90ff"/>
<rect x="687" y="817" width="3" height="1" fill="#1e90ff"/>
<rect x="695" y="819" width="3" height="3" fill="#ffa07a"/>
<rect x="699" y="819" width="3" height="3" fill="#ffa07a"/>
<rect x="703" y="819" width="3" height="1" fill="#ffa07a"/>
<rect x="719" y="817" width="3" height="1" fill="#1e90ff"/>
<rect x="723" y="816" width="3" height="2" fill="#1e90ff"/>
<rect x="727" y="815" width="3" height="3" fill="#1e90ff"/>
<rect x="731" y="816" width="3" height="2" fill="#1e90ff"/>
<rect x="735" y="817" width="3" height="1" fill="#1e90ff"/>
<rect x="739" y="815" width="3" height="3" fill="#1e90ff"/>
<rect x="743" y="816" width="3" height="2" fill="#1e90ff"/>
<rect x="747" y="819" width="3" height="10" fill="#ffa07a"/>
<rect x="751" y="819" width="3" height="11" fill="#ffa07a"/>
<rect x="755" y="819" width="3" height="7" fill="#ffa07a"/>
<rect x="759" y="819" width="3" height="3" fill="#ffa07a"/>
<rect x="771" y="816" width="3" height="2" fill="#1e90ff"/>
<rect x="775" y="815" width="3" height="3" fill="#1e90ff"/>
<rect x="779" y="819" width="3" height="1" fill="#ffa07a"/>
<rect x="783" y="819" width="3" height="3" fill="#ffa07a"/>
<rect x="795" y="817" width="3" height="1" fill="#1e90ff"/>
<rect x="799" y="813" width="3" height="5" fill="#1e90ff"/>
<rect x="803" y="813" width="3" height="5" fill="#1e90ff"/>
<rect x="807" y="814" width="3" height="4" fill="#1e90ff"/>
<rect x="811" y="813" width="3" height="5" fill="#1e90ff"/>
<rect x="815" y="813" width="3" height="5" fill="#1e90ff"/>
<rect x="819" y="814" width="3" height="4" fill="#1e90ff"/>
<rect x="823" y="814" width="3" height="4" fill="#1e90ff"/>
<rect x="827" y="816" width="3" height="2" fill="#1e90ff"/>
<rect x="839" y="816" width="3" height="2" fill="#1e90ff"/>
<rect x="843" y="814" width="3" height="4" fill="#1e90ff"/>
<rect x="847" y="814" width="3" height="4" fill="#1e90ff"/>
<rect x="851" y="813" width="3" height="5" fill="#1e90ff"/>
<rect x="855" y="813" width="3" height="5" fill="#1e90ff"/>
<rect x="859" y="817" width="3" height="1" fill="#1e90ff"/>
<rect x="879" y="819" width="3" height="4" fill="#ffa07a"/>
<rect x="883" y="819" width="3" height="3" fill="#ffa07a"/>
<rect x="887" y="819" width="3" height="3" fill="#ffa07a"/>
<rect x="891" y="819" width="3" height="3" fill="#ffa07a"/>
<rect x="895" y="819" width="3" height="4" fill="#ffa07a"/>
<rect x="899" y="819" width="3" height="4" fill="#ffa07a"/>
<rect x="903" y="819" width="3" height="3" fill="#ffa07a"/>
<rect x="907" y="819" width="3" height="3" fill="#ffa07a"/>
<rect x="911" y="819" width="3" height="4" fill="#ffa07a"/>
<rect x="915" y="819" width="3" height="5" fill="#ffa07a"/>
<rect x="919" y="819" width="3" height="3" fill="#ffa07a"/>
<rect x="927" y="814" width="3" height="4" fill="#1e90ff"/>
<rect x="931" y="812" width="3" height="6" fill="#1e90ff"/>
<rect x="935" y="812" width="3" height="6" fill="#1e90ff"/>
<rect x="939" y="811" width="3" height="7" fill="#1e90ff"/>
<rect x="943" y="810" width="3" height="8" fill="#1e90ff"/>
<rect x="947" y="812" width="3" height="6" fill="#1e90ff"/>
<rect x="951" y="815" width="3" height="3" fill="#1e90ff"/>
<rect x="959" y="819" width="3" height="3" fill="#ffa07a"/>
<rect x="963" y="819" width="3" height="3" fill="#ffa07a"/>
<rect x="971" y="819" width="3" height="3" fill="#ffa07a"/>
<rect x="983" y="819" width="3" height="4" fill="#ffa07a"/>
<rect x="987" y="819" width="3" height="1" fill="#ffa07a"/>
<rect x="991" y="819" width="3" height="3" fill="#ffa07a"/>
<rect x="995" y="819" width="3" height="7" fill="#ffa07a"/>
<rect x="999" y="819" width="3" height="21" fill="#ffa07a"/>
<rect x="1003" y="819" width="3" height="23" fill="#ffa07a"/>
<rect x="1007" y="819" width="3" height="18" fill="#ffa07a"/>
<rect x="1011" y="819" width="3" height="13" fill="#ffa07a"/>
<rect x="1015" y="819" width="3" height="7" fill="#ffa07a"/>
<rect x="1023" y="814" width="3" height="4" fill="#1e90ff"/>
<rect x="1027" y="812" width="3" height="6" fill="#1e90ff"/>
<rect x="1031" y="812" width="3" height="6" fill="#1e90ff"/>
<rect x="1035" y="808" width="3" height="10" fill="#1e90ff"/>
<rect x="1039" y="813" width="3" height="5" fill="#1e90ff"/>
<rect x="1043" y="814" width="3" height="4" fill="#1e90ff"/>
<rect x="1047" y="813" width="3" height="5" fill="#1e90ff"/>
<rect x="1051" y="814" width="3" height="4" fill="#1e90ff"/>
<rect x="1055" y="814" width="3" height="4" fill="#1e90ff"/>
<rect x="1059" y="815" width="3" height="3" fill="#1e90ff"/>
<rect x="1063" y="816" width="3" height="2" fill="#1e90ff"/>
<rect x="1067" y="819" width="3" height="1" fill="#ffa07a"/>
<rect x="1071" y="810" width="3" height="8" fill="#1e90ff"/>
<rect x="1075" y="809" width="3" height="9" fill="#1e90ff"/>
<rect x="43" y="818" width="3" height="1" fill="#1e90ff"/>
<rect x="47" y="818" width="3" height="1" fill="#1e90ff"/>
<rect x="51" y="818" width="3" height="1" fill="#1e90ff"/>
<rect x="55" y="819" width="3" height="1" fill="#ffa07a"/>
<rect x="59" y="818" width="3" height="1" fill="#1e90ff"/>
<rect x="63" y="818" width="3" height="1" fill="#1e90ff"/>
<rect x="67" y="818" width="3" height="1" fill="#1e90ff"/>
<rect x="79" y="818" width="3" height="1" fill="#1e90ff"/>
<rect x="83" y="819" width="3" height="1" fill="#ffa07a"/>
<rect x="87" y="819" width="3" height="1" fill="#ffa07a"/>
<rect x="91" y="819" width="3" height="1" fill="#ffa07a"/>
<rect x="95" y="819" width="3" height="1" fill="#ffa07a"/>
<rect x="107" y="819" width="3" height="1" fill="#ffa07a"/>
<rect x="111" y="819" width="3" height="1" fill="#ffa07a"/>
<rect x="115" y="819" width="3" height="1" fill="#ffa07a"/>
<rect x="119" y="819" width="3" height="1" fill="#ffa07a"/>
<rect x="123" y="819" width="3" height="1" fill="#ffa07a"/>
<rect x="127" y="818" width="3" height="1" fill="#1e90ff"/>
<rect x="131" y="818" width="3" height="1" fill="#1e90ff"/>
<rect x="135" y="818" width="3" height="1" fill="#1e90ff"/>
<rect x="139" y="818" width="3" height="1" fill="#1e90ff"/>
<rect x="143" y="818" width="3" height="1" fill="#1e90ff"/>
<rect x="147" y="818" width="3" height="1" fill="#1e90ff"/>
<rect x="151" y="818" width="3" height="1" fill="#1e90ff"/>
<rect x="207" y="818" width="3" height="1" fill="#1e90ff"/>
<rect x="211" y="818" width="3" height="1" fill="#1e90ff"/>
<rect x="215" y="818" width="3" height="1" fill="#1e90ff"/>
<rect x="219" y="818" width="3" height="1" fill="#1e90ff"/>
<rect x="223" y="818" width="3" height="1" fill="#1e90ff"/>
<rect x="227" y="818" width="3" height="1" fill="#1e90ff"/>
<rect x="231" y="819" width="3" height="1" fill="#ffa07a"/>
<rect x="235" y="819" width="3" height="1" fill="#ffa07a"/>
<rect x="239" y="819" width="3" height="1" fill="#ffa07a"/>
<rect x="243" y="819" width="3" height="1" fill="#ffa07a"/>
<rect x="247" y="819" width="3" height="1" fill="#ffa07a"/>
<rect x="251" y="819" width="3" height="1" fill="#ffa07a"/>
<rect x="255" y="819" width="3" height="1" fill="#ffa07a"/>
<rect x="259" y="819" width="3" height="1" fill="#ffa07a"/>
<rect x="263" y="819" width="3" height="1" fill="#ffa07a"/>
<rect x="267" y="818" width="3" height="1" fill="#1e90ff"/>
<rect x="271" y="818" width="3" height="1" fill="#1e90ff"/>
<rect x="275" y="818" width="3" height="1" fill="#1e90ff"/>
<rect x="279" y="818" width="3" height="1" fill="#1e90ff"/>
<rect x="283" y="818" width="3" height="1" fill="#1e90ff"/>
<rect x="287" y="818" width="3" height="1" fill="#1e90ff"/>
<rect x="295" y="819" width="3" height="1" fill="#ffa07a"/>
<rect x="299" y="819" width="3" height="1" fill="#ffa07a"/>
<rect x="343" y="818" width="3" height="1" fill="#1e90ff"/>
<rect x="347" y="818" width="3" height="1" fill="#1e90ff"/>
<rect x="355" y="818" width="3" height="1" fill="#1e90ff"/>
<rect x="359" y="818" width="3" height="1" fill="#1e90ff"/>
<rect x="363" y="818" width="3" height="1" fill="#1e90ff"/>
<rect x="367" y="818" width="3" height="1" fill="#1e90ff"/>
<rect x="371" y="818" width="3" height="1" fill="#1e90ff"/>
<rect x="391" y="818" width="3" height="1" fill="#1e90ff"/>
<rect x="395" y="818" width="3" height="1" fill="#1e90ff"/>
<rect x="399" y="818" width="3" height="1" fill="#1e90ff"/>
<rect x="403" y="818" width="3" height="1" fill="#1e90ff"/>
<rect x="415" y="819" width="3" height="1" fill="#ffa07a"/>
<rect x="451" y="818" width="3" height="1" fill="#1e90ff"/>
<rect x="455" y="818" width="3" height="1" fill="#1e90ff"/>
<rect x="459" y="818" width="3" height="1" fill="#1e90ff"/>
<rect x="467" y="818" width="3" height="1" fill="#1e90ff"/>
<rect x="471" y="818" width="3" height="1" fill="#1e90ff"/>
<rect x="475" y="818" width="3" height="1" fill="#1e90ff"/>
<rect x="595" y="818" width="3" height="1" fill="#1e90ff"/>
<rect x="607" y="818" width="3" height="1" fill="#1e90ff"/>
<rect x="615" y="819" width="3" height="1" fill="#ffa07a"/>
<rect x="619" y="819" width="3" height="1" fill="#ffa07a"/>
<rect x="643" y="818" width="3" height="1" fill="#1e90ff"/>
<rect x="647" y="818" width="3" height="1" fill="#1e90ff"/>
<rect x="651" y="818" width="3" height="1" fill="#1e90ff"/>
<rect x="655" y="818" width="3" height="1" fill="#1e90ff"/>
<rect x="659" y="818" width="3" height="1" fill="#1e90ff"/>
<rect x="663" y="818" width="3" height="1" fill="#1e90ff"/>
<rect x="667" y="818" width="3" height="1" fill="#1e90ff"/>
<rect x="671" y="818" width="3" height="1" fill="#1e90ff"/>
<rect x="691" y="819" width="3" height="1" fill="#ffa07a"/>
<rect x="707" y="818" width="3" height="1" fill="#1e90ff"/>
<rect x="711" y="818" width="3" height="1" fill="#1e90ff"/>
<rect x="715" y="818" width="3" height="1" fill="#1e90ff"/>
<rect x="763" y="819" width="3" height="1" fill="#ffa07a"/>
<rect x="767" y="819" width="3" height="1" fill="#ffa07a"/>
<rect x="787" y="819" width="3" height="1" fill="#ffa07a"/>
<rect x="791" y="819" width="3" height="1" fill="#ffa07a"/>
<rect x="831" y="818" width="3" height="1" fill="#1e90ff"/>
<rect x="835" y="818" width="3" height="1" fill="#1e90ff"/>
<rect x="863" y="818" width="3" height="1" fill="#1e90ff"/>
<rect x="867" y="818" width="3" height="1" fill="#1e90ff"/>
<rect x="871" y="818" width="3" height="1" fill="#1e90ff"/>
<rect x="875" y="818" width="3" height="1" fill="#1e90ff"/>
<rect x="923" y="819" width="3" height="1" fill="#ffa07a"/>
<rect x="955" y="818" width="3" height="1" fill="#1e90ff"/>
<rect x="967" y="819" width="3" height="1" fill="#ffa07a"/>
<rect x="975" y="819" width="3" height="1" fill="#ffa07a"/>
<rect x="979" y="819" width="3" height="1" fill="#ffa07a"/>
<rect x="1019" y="818" width="3" height="1" fill="#1e90ff"/>
<polyline points="0.0,818.0 16.0,818.0 17.0,819.0 24.0,819.0 25.0,818.0 33.0,818.0 34.0,817.0 95.0,817.5 100.0,819.0 108.0,820.0 130.0,820.0 140.0,819.0 150.0,818.0 172.0,818.0 175.0,819.0 192.0,819.0 195.0,817.0 205.0,816.0 208.9,814.9 220.7,813.7 234.2,813.7 244.3,815.4 254.4,816.6 293.1,817.4 315.0,818.3 331.9,819.4 343.7,819.4 352.1,818.3 345.1,819.1 355.2,817.9 360.2,816.9 370.3,816.1 375.4,814.9 380.4,811.5 385.5,809.8 388.8,809.8 390.5,810.7 405.7,810.7 409.0,808.2 412.4,807.7 417.5,809.8 427.6,809.8 434.3,812.0 437.7,813.2 461.3,813.2 465.5,810.7 473.0,810.7 478.1,809.8 483.1,804.8 489.0,799.7 491.6,799.7 494.1,792.2 495.8,782.9 499.1,782.1 505.9,785.4 509.2,789.6 513.5,797.2 516.8,809.0 521.0,817.4 525.2,818.3 530.3,821.6 536.2,827.5 539.6,826.7 540.0,826.7 550.1,826.3 553.5,823.3 558.5,822.5 565.3,818.3 570.3,813.2 575.4,812.0 580.4,809.8 585.5,808.5 590.5,807.8 595.6,808.2 602.3,810.7 607.4,809.0 615.8,807.8 624.2,808.7 627.6,812.4 632.6,816.1 636.8,817.4 642.7,817.1 647.8,816.2 654.5,817.9 661.3,817.4 668.0,819.9 673.0,819.4 678.1,817.1 683.1,814.9 687.4,813.7 691.6,815.7 698.3,817.1 705.0,817.8 711.8,820.4 716.8,821.1 721.9,819.1 726.9,817.1 733.7,814.4 740.4,813.7 740.0,813.7 745.1,814.0 750.1,822.5 755.2,826.7 763.6,826.2 773.7,824.5 782.1,825.8 788.8,825.8 797.3,823.3 807.4,819.4 817.5,815.7 827.6,813.2 841.0,812.4 847.8,809.8 856.2,807.0 862.9,807.0 878.1,807.7 886.5,810.3 896.6,812.4 906.7,814.9 915.1,819.1 921.9,820.8 926.9,819.9 929.5,817.4 930.0,816.6 936.7,810.7 943.5,805.6 951.9,803.6 960.3,806.0 970.4,808.2 980.5,808.2 985.6,809.8 994.0,810.7 997.4,814.9 1000.7,825.8 1005.8,835.1 1011.7,840.7 1017.6,840.7 1024.3,835.9 1031.0,831.7 1037.8,826.7 1047.9,825.0 1054.6,822.5 1064.7,820.4 1069.8,820.4 1073.1,816.6 1077.4,813.7" fill="none" stroke="#0000cd" stroke-width="2" />
<polyline points="0.0,818.0 33.0,818.0 36.0,817.0 96.0,817.0 104.0,819.0 140.0,819.0 150.0,818.0 192.0,818.0 198.0,817.0 205.0,816.0 208.9,815.4 220.7,814.0 234.2,813.7 244.3,815.1 254.4,816.2 293.1,817.1 315.0,817.9 331.9,818.8 343.7,818.8 352.1,818.3 356.8,818.3 373.7,816.6 382.1,813.2 388.8,811.2 405.7,811.2 414.1,809.0 419.2,809.0 429.3,810.2 437.7,812.7 461.3,812.7 468.0,811.5 479.8,810.7 486.5,805.6 491.6,802.3 495.8,793.8 500.0,787.9 504.2,787.1 508.4,787.9 513.5,793.8 518.5,805.6 523.6,813.2 530.3,819.1 537.0,825.8 540.4,826.2 540.0,825.8 550.1,825.8 556.8,823.8 563.6,821.1 570.3,816.6 577.0,813.2 583.8,810.3 590.5,808.7 597.3,808.2 602.3,809.5 609.0,809.3 615.8,808.7 624.2,808.7 629.3,812.0 634.3,815.7 639.4,817.1 647.8,816.6 656.2,817.4 662.9,817.4 669.7,819.4 674.7,818.8 679.8,817.1 686.5,815.4 691.6,814.9 698.3,816.1 705.0,817.1 711.8,819.9 716.8,820.4 723.6,819.4 730.3,817.1 737.0,814.9 740.0,815.4 746.7,816.1 751.8,822.5 756.8,825.0 765.3,825.0 773.7,824.2 782.1,824.8 797.3,824.5 807.4,819.9 817.5,816.6 827.6,814.0 841.0,813.2 849.5,810.3 857.9,807.7 864.6,807.0 878.1,807.0 888.2,809.3 898.3,812.0 908.4,814.9 916.8,818.8 921.9,819.9 926.9,819.4 930.0,817.9 930.0,817.9 938.4,813.2 946.8,807.3 955.3,804.8 963.7,806.0 972.1,807.3 982.2,807.7 990.6,809.3 997.4,813.2 1002.4,822.5 1007.5,830.9 1013.4,838.5 1019.3,839.3 1026.0,836.8 1032.7,833.4 1039.5,828.9 1049.6,825.8 1058.0,823.3 1064.7,822.1 1069.8,821.6 1074.0,818.3 1077.4,816.6" fill="none" stroke="#ff8c00" stroke-width="2" />
<rect x="1205" y="16" width="2" height="1" fill="#000"/>
<rect x="1205" y="49" width="2" height="1" fill="#000"/>
<rect x="1205" y="82" width="2" height="1" fill="#000"/>
<rect x="1205" y="115" width="2" height="1" fill="#000"/>
<rect x="1205" y="148" width="2" height="1" fill="#000"/>
<rect x="1205" y="181" width="2" height="1" fill="#000"/>
<rect x="1205" y="214" width="2" height="1" fill="#000"/>
<rect x="1205" y="247" width="2" height="1" fill="#000"/>
<rect x="1205" y="280" width="2" height="1" fill="#000"/>
<rect x="1205" y="313" width="2" height="1" fill="#000"/>
<rect x="1205" y="346" width="2" height="1" fill="#000"/>
<rect x="1205" y="379" width="2" height="1" fill="#000"/>
<rect x="1205" y="412" width="2" height="1" fill="#000"/>
<rect x="1205" y="445" width="2" height="1" fill="#000"/>
<rect x="1205" y="478" width="2" height="1" fill="#000"/>
<rect x="1205" y="511" width="2" height="1" fill="#000"/>
<rect x="1205" y="544" width="2" height="1" fill="#000"/>
<rect x="1205" y="577" width="2" height="1" fill="#000"/>
<rect x="1205" y="610" width="2" height="1" fill="#000"/>
<rect x="1205" y="818" width="2" height="1" fill="#000"/>
<rect x="1205" y="616" width="1" height="1" fill="#000"/>
<rect x="1205" y="774" width="1" height="1" fill="#000"/>
<rect x="1205" y="779" width="1" height="1" fill="#000"/>
<rect x="1205" y="846" width="1" height="1" fill="#000"/>
<rect x="36" y="848" width="1" height="3" fill="#000"/>
<rect x="100" y="848" width="1" height="3" fill="#000"/>
<rect x="164" y="848" width="1" height="3" fill="#000"/>
<rect x="228" y="848" width="1" height="3" fill="#000"/>
<rect x="292" y="848" width="1" height="3" fill="#000"/>
<rect x="356" y="848" width="1" height="3" fill="#000"/>
<rect x="420" y="848" width="1" height="3" fill="#000"/>
<rect x="484" y="848" width="1" height="3" fill="#000"/>
<rect x="548" y="848" width="1" height="3" fill="#000"/>
<rect x="612" y="848" width="1" height="3" fill="#000"/>
<rect x="676" y="848" width="1" height="3" fill="#000"/>
<rect x="740" y="848" width="1" height="3" fill="#000"/>
<rect x="804" y="848" width="1" height="3" fill="#000"/>
<rect x="868" y="848" width="1" height="3" fill="#000"/>
<rect x="932" y="848" width="1" height="3" fill="#000"/>
<rect x="996" y="848" width="1" height="3" fill="#000"/>
<rect x="1060" y="848" width="1" height="3" fill="#000"/>
</g>
<ellipse cx="1083.6" cy="809.5" rx="38.5" ry="33.7" fill="none" stroke="#f4505a" stroke-width="1.9"/>
<text transform="translate(1210.2,19.5) scale(0.925,1)" fill="#000" stroke="#000" stroke-width="0.3" text-anchor="start">119.50</text>
<text transform="translate(1210.2,52.5) scale(0.925,1)" fill="#000" stroke="#000" stroke-width="0.3" text-anchor="start">115.80</text>
<text transform="translate(1210.2,85.5) scale(0.925,1)" fill="#000" stroke="#000" stroke-width="0.3" text-anchor="start">112.20</text>
<text transform="translate(1210.2,118.5) scale(0.925,1)" fill="#000" stroke="#000" stroke-width="0.3" text-anchor="start">108.60</text>
<text transform="translate(1210.2,184.5) scale(0.925,1)" fill="#000" stroke="#000" stroke-width="0.3" text-anchor="start">101.40</text>
<text transform="translate(1210.2,217.5) scale(0.925,1)" fill="#000" stroke="#000" stroke-width="0.3" text-anchor="start">97.80</text>
<text transform="translate(1210.2,250.5) scale(0.925,1)" fill="#000" stroke="#000" stroke-width="0.3" text-anchor="start">94.10</text>
<text transform="translate(1210.2,283.5) scale(0.925,1)" fill="#000" stroke="#000" stroke-width="0.3" text-anchor="start">90.50</text>
<text transform="translate(1210.2,316.5) scale(0.925,1)" fill="#000" stroke="#000" stroke-width="0.3" text-anchor="start">86.90</text>
<text transform="translate(1210.2,349.5) scale(0.925,1)" fill="#000" stroke="#000" stroke-width="0.3" text-anchor="start">83.30</text>
<text transform="translate(1210.2,382.5) scale(0.925,1)" fill="#000" stroke="#000" stroke-width="0.3" text-anchor="start">79.70</text>
<text transform="translate(1210.2,415.5) scale(0.925,1)" fill="#000" stroke="#000" stroke-width="0.3" text-anchor="start">76.10</text>
<text transform="translate(1210.2,448.5) scale(0.925,1)" fill="#000" stroke="#000" stroke-width="0.3" text-anchor="start">72.50</text>
<text transform="translate(1210.2,481.5) scale(0.925,1)" fill="#000" stroke="#000" stroke-width="0.3" text-anchor="start">68.80</text>
<text transform="translate(1210.2,514.5) scale(0.925,1)" fill="#000" stroke="#000" stroke-width="0.3" text-anchor="start">65.20</text>
<text transform="translate(1210.2,547.5) scale(0.925,1)" fill="#000" stroke="#000" stroke-width="0.3" text-anchor="start">61.60</text>
<text transform="translate(1210.2,580.5) scale(0.925,1)" fill="#000" stroke="#000" stroke-width="0.3" text-anchor="start">58.00</text>
<text transform="translate(1210.2,613.5) scale(0.925,1)" fill="#000" stroke="#000" stroke-width="0.3" text-anchor="start">54.40</text>
<rect x="1206" y="73" width="36" height="11" fill="#ff0000" shape-rendering="crispEdges"/>
<text transform="translate(1209.8,82) scale(0.925,1)" fill="#fff" stroke="#fff" stroke-width="0.3" text-anchor="start">112.52</text>
<rect x="1206" y="86" width="36" height="11" fill="#ff0000" shape-rendering="crispEdges"/>
<text transform="translate(1209.8,95) scale(0.925,1)" fill="#fff" stroke="#fff" stroke-width="0.3" text-anchor="start">111.10</text>
<rect x="1206" y="142" width="36" height="11" fill="#000000" shape-rendering="crispEdges"/>
<text transform="translate(1209.8,151) scale(0.925,1)" fill="#fff" stroke="#fff" stroke-width="0.3" text-anchor="start">105.14</text>
<rect x="1206" y="201" width="31" height="11" fill="#ff0000" shape-rendering="crispEdges"/>
<text transform="translate(1209.8,210) scale(0.925,1)" fill="#fff" stroke="#fff" stroke-width="0.3" text-anchor="start">98.52</text>
<rect x="1206" y="215" width="31" height="11" fill="#ff0000" shape-rendering="crispEdges"/>
<text transform="translate(1209.8,224) scale(0.925,1)" fill="#fff" stroke="#fff" stroke-width="0.3" text-anchor="start">96.99</text>
<rect x="1206" y="634" width="39" height="11" fill="#ff0000" shape-rendering="crispEdges"/>
<text transform="translate(1209.8,643) scale(0.925,1)" fill="#fff" stroke="#fff" stroke-width="0.3" text-anchor="start">85.0000</text>
<rect x="1206" y="658" width="39" height="11" fill="#ff0000" shape-rendering="crispEdges"/>
<text transform="translate(1209.8,667) scale(0.925,1)" fill="#fff" stroke="#fff" stroke-width="0.3" text-anchor="start">70.0000</text>
<rect x="1206" y="721" width="39" height="11" fill="#0000ff" shape-rendering="crispEdges"/>
<text transform="translate(1209.8,730) scale(0.925,1)" fill="#fff" stroke="#fff" stroke-width="0.3" text-anchor="start">30.0000</text>
<rect x="1206" y="745" width="39" height="11" fill="#0000ff" shape-rendering="crispEdges"/>
<text transform="translate(1209.8,754) scale(0.925,1)" fill="#fff" stroke="#fff" stroke-width="0.3" text-anchor="start">15.0000</text>
<text transform="translate(1208.5,626.5) scale(0.925,1)" fill="#000" stroke="#000" stroke-width="0.3" text-anchor="start">100</text>
<text transform="translate(1207,699.3) scale(0.925,1)" fill="#000" stroke="#000" stroke-width="0.3" text-anchor="start">50</text>
<text transform="translate(1208,772) scale(0.925,1)" fill="#000" stroke="#000" stroke-width="0.3" text-anchor="start">0</text>
<text transform="translate(1208,788.3) scale(0.925,1)" fill="#000" stroke="#000" stroke-width="0.3" text-anchor="start">7.394</text>
<text transform="translate(1208,822.3) scale(0.925,1)" fill="#000" stroke="#000" stroke-width="0.3" text-anchor="start">0.00</text>
<text transform="translate(1208,844.3) scale(0.925,1)" fill="#000" stroke="#000" stroke-width="0.3" text-anchor="start">-5.3663</text>
<text transform="translate(-29,860.2) scale(0.955,1)" fill="#000" stroke="#000" stroke-width="0.3" text-anchor="start">5 Feb 05:00</text>
<text transform="translate(35,860.2) scale(0.955,1)" fill="#000" stroke="#000" stroke-width="0.3" text-anchor="start">9 Feb 21:00</text>
<text transform="translate(99,860.2) scale(0.955,1)" fill="#000" stroke="#000" stroke-width="0.3" text-anchor="start">12 Feb 13:00</text>
<text transform="translate(163,860.2) scale(0.955,1)" fill="#000" stroke="#000" stroke-width="0.3" text-anchor="start">17 Feb 05:00</text>
<text transform="translate(227,860.2) scale(0.955,1)" fill="#000" stroke="#000" stroke-width="0.3" text-anchor="start">19 Feb 21:00</text>
<text transform="translate(291,860.2) scale(0.955,1)" fill="#000" stroke="#000" stroke-width="0.3" text-anchor="start">24 Feb 13:00</text>
<text transform="translate(355,860.2) scale(0.955,1)" fill="#000" stroke="#000" stroke-width="0.3" text-anchor="start">27 Feb 05:00</text>
<text transform="translate(419,860.2) scale(0.955,1)" fill="#000" stroke="#000" stroke-width="0.3" text-anchor="start">3 Mar 21:00</text>
<text transform="translate(483,860.2) scale(0.955,1)" fill="#000" stroke="#000" stroke-width="0.3" text-anchor="start">6 Mar 13:00</text>
<text transform="translate(547,860.2) scale(0.955,1)" fill="#000" stroke="#000" stroke-width="0.3" text-anchor="start">11 Mar 05:00</text>
<text transform="translate(611,860.2) scale(0.955,1)" fill="#000" stroke="#000" stroke-width="0.3" text-anchor="start">13 Mar 21:00</text>
<text transform="translate(675,860.2) scale(0.955,1)" fill="#000" stroke="#000" stroke-width="0.3" text-anchor="start">18 Mar 13:00</text>
<text transform="translate(739,860.2) scale(0.955,1)" fill="#000" stroke="#000" stroke-width="0.3" text-anchor="start">23 Mar 05:00</text>
<text transform="translate(803,860.2) scale(0.955,1)" fill="#000" stroke="#000" stroke-width="0.3" text-anchor="start">25 Mar 21:00</text>
<text transform="translate(867,860.2) scale(0.955,1)" fill="#000" stroke="#000" stroke-width="0.3" text-anchor="start">30 Mar 13:00</text>
<text transform="translate(931,860.2) scale(0.955,1)" fill="#000" stroke="#000" stroke-width="0.3" text-anchor="start">2 Apr 05:00</text>
<text transform="translate(995,860.2) scale(0.955,1)" fill="#000" stroke="#000" stroke-width="0.3" text-anchor="start">7 Apr 21:00</text>
<text transform="translate(1059,860.2) scale(0.955,1)" fill="#000" stroke="#000" stroke-width="0.3" text-anchor="start">10 Apr 13:00</text>
</svg></body></html>
